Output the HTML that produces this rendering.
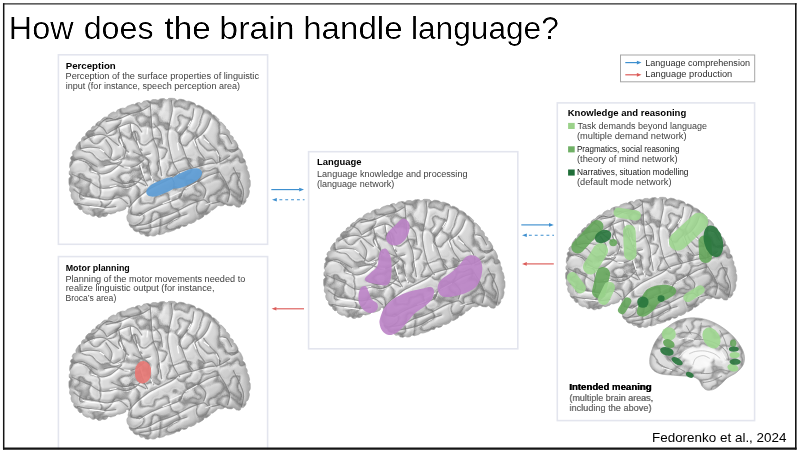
<!DOCTYPE html>
<html lang="en"><head><meta charset="utf-8"><title>How does the brain handle language?</title>
<style>
html,body{margin:0;padding:0;background:#fff;}
body{width:800px;height:452px;overflow:hidden;font-family:"Liberation Sans",sans-serif;}
svg{display:block;font-family:"Liberation Sans",sans-serif;}
</style></head><body>
<svg width="800" height="452" viewBox="0 0 800 452">

<defs><filter id="gray" filterUnits="userSpaceOnUse" x="0" y="0" width="800" height="452"><feOffset dx="0" dy="0"/></filter><filter id="thin" x="-5%" y="-20%" width="110%" height="140%"><feComponentTransfer><feFuncA type="linear" slope="1.45" intercept="-0.42"/></feComponentTransfer></filter></defs>
<defs>
<clipPath id="bclip"><path d="M69.4,171.3 L70.4,170.2 L70.6,169.0 L69.7,167.6 L69.6,166.3 L69.7,165.0 L69.8,163.7 L70.0,162.3 L71.2,161.2 L71.2,159.9 L70.5,158.6 L70.7,157.4 L71.4,156.4 L72.8,155.8 L72.9,154.8 L72.2,153.5 L72.4,152.6 L72.8,151.8 L73.3,151.0 L74.0,150.4 L75.3,150.2 L76.3,149.6 L75.9,148.2 L75.9,147.0 L76.4,146.0 L77.0,145.0 L77.7,144.0 L78.4,143.0 L79.2,142.0 L80.6,141.4 L81.5,140.5 L81.6,138.8 L82.2,137.6 L83.3,136.8 L84.9,136.4 L85.6,135.2 L85.8,133.6 L86.5,132.5 L87.4,131.6 L88.3,130.7 L89.7,130.3 L91.2,129.9 L91.4,128.2 L92.0,127.0 L93.2,126.2 L95.0,126.2 L95.7,125.1 L96.2,123.5 L97.2,122.5 L98.4,121.7 L99.9,121.3 L101.1,120.4 L102.0,119.0 L103.2,118.1 L104.5,117.2 L106.1,117.0 L107.9,116.9 L108.5,115.1 L109.6,114.0 L110.8,113.2 L112.1,112.5 L113.4,111.9 L115.2,112.4 L116.4,111.9 L117.1,110.2 L118.3,109.6 L119.5,109.1 L120.8,108.6 L122.1,108.2 L123.5,108.2 L125.0,108.4 L126.0,107.4 L127.0,106.4 L128.2,105.9 L129.5,105.4 L130.7,105.0 L132.0,104.5 L133.3,104.3 L134.7,104.6 L135.8,103.6 L136.9,102.9 L138.2,102.6 L139.5,102.5 L141.1,103.5 L142.2,102.8 L143.2,101.4 L144.4,101.0 L145.6,100.8 L146.9,100.6 L148.1,100.5 L149.5,101.0 L150.8,100.9 L151.9,99.9 L153.1,99.6 L154.4,99.5 L155.7,99.5 L157.0,100.0 L158.3,100.1 L159.5,99.2 L160.7,98.8 L162.0,98.7 L163.3,98.6 L164.6,98.7 L165.9,99.8 L167.2,99.8 L168.4,98.6 L169.7,98.3 L170.9,98.3 L172.2,98.3 L173.5,98.4 L174.7,98.6 L175.9,99.5 L177.1,100.5 L178.4,99.8 L179.8,99.2 L181.1,99.3 L182.3,99.5 L183.6,99.8 L184.8,100.3 L185.8,101.1 L187.0,101.4 L188.3,101.1 L189.5,101.3 L190.7,101.7 L191.8,102.1 L192.9,102.5 L194.0,102.9 L195.0,103.6 L195.6,105.1 L196.6,105.8 L198.1,105.2 L199.4,105.4 L200.4,105.9 L201.4,106.4 L202.4,107.0 L203.4,107.6 L204.1,108.5 L204.8,109.5 L206.0,109.7 L207.2,109.9 L208.2,110.4 L209.1,111.0 L210.1,111.7 L211.0,112.5 L211.6,113.7 L212.4,114.7 L213.9,114.9 L215.0,115.7 L216.0,116.6 L217.0,117.5 L218.0,118.5 L218.9,119.5 L218.7,121.6 L220.4,121.9 L221.8,122.5 L222.8,123.5 L223.7,124.5 L224.6,125.5 L225.5,126.6 L225.8,128.1 L226.4,129.3 L228.0,129.8 L228.9,130.9 L229.6,132.1 L229.7,133.7 L229.9,135.2 L231.6,135.8 L232.8,136.6 L233.4,137.9 L233.1,139.8 L234.9,140.3 L235.9,141.5 L236.6,142.7 L237.3,144.0 L238.0,145.3 L238.0,146.9 L238.5,148.3 L239.9,149.2 L240.7,150.3 L241.3,151.5 L241.9,152.7 L242.4,153.9 L242.8,155.0 L242.8,156.4 L242.6,157.7 L243.5,158.6 L244.5,159.4 L245.1,160.5 L245.5,161.5 L245.7,162.7 L245.5,164.0 L245.9,165.1 L246.8,166.0 L247.2,167.2 L247.3,168.5 L247.0,169.9 L247.8,171.0 L248.6,172.1 L248.9,173.4 L249.2,174.6 L249.5,175.8 L249.6,177.1 L249.0,178.4 L249.6,179.5 L250.2,180.6 L250.3,181.7 L250.3,182.8 L250.3,183.9 L250.3,185.0 L250.2,186.1 L249.8,187.1 L249.1,188.1 L248.8,189.1 L249.1,190.1 L249.4,191.1 L249.4,192.1 L249.2,193.0 L249.0,193.9 L248.8,194.7 L248.5,195.5 L248.3,196.3 L247.9,197.1 L247.4,197.7 L246.5,198.2 L245.9,198.7 L246.0,199.6 L246.1,200.5 L245.9,201.2 L245.6,201.8 L245.2,202.4 L244.8,202.9 L244.4,203.5 L244.0,204.0 L243.4,204.4 L242.7,204.6 L241.9,204.6 L241.2,204.7 L240.9,205.1 L240.7,205.8 L240.5,206.4 L240.2,206.9 L239.7,207.1 L239.2,207.2 L238.7,207.2 L238.2,207.2 L237.6,207.1 L237.1,207.0 L236.5,206.9 L236.0,206.6 L235.5,206.2 L235.0,205.6 L234.4,205.1 L233.8,204.8 L233.1,205.0 L232.4,205.5 L231.7,205.8 L231.0,205.9 L230.3,205.8 L229.6,205.8 L228.8,205.7 L228.1,205.6 L227.4,205.4 L226.7,205.0 L226.0,204.5 L225.2,204.2 L224.5,204.5 L223.9,205.1 L223.2,205.5 L222.5,205.7 L221.8,205.8 L221.0,205.9 L220.3,205.8 L219.5,205.6 L218.7,205.4 L217.9,205.5 L217.3,206.1 L216.8,206.7 L216.3,207.3 L215.8,207.7 L215.3,208.1 L214.8,208.5 L214.3,208.9 L213.8,209.3 L213.3,209.7 L212.7,210.1 L211.9,210.2 L210.8,210.1 L210.4,210.8 L210.3,211.9 L209.7,212.6 L209.0,213.1 L208.2,213.6 L207.4,214.2 L206.6,214.7 L205.5,214.8 L204.2,214.7 L203.8,216.0 L203.2,217.0 L202.3,217.6 L201.4,218.1 L200.4,218.7 L199.4,219.3 L198.2,219.6 L196.6,219.1 L196.0,220.6 L195.1,221.6 L194.0,222.2 L192.9,222.7 L191.7,223.3 L190.4,223.5 L188.9,223.3 L187.9,224.1 L187.1,225.3 L186.1,225.9 L185.0,226.3 L183.8,226.5 L182.3,226.0 L181.2,226.2 L180.4,227.6 L179.4,228.4 L178.3,228.6 L177.0,228.5 L175.9,228.9 L175.0,229.8 L173.9,230.3 L172.8,230.7 L171.7,231.1 L170.5,231.5 L169.4,231.8 L168.2,232.1 L166.9,232.0 L165.7,232.0 L164.8,233.0 L163.8,233.6 L162.7,233.9 L161.6,234.2 L160.6,234.5 L159.5,234.7 L158.4,234.3 L157.3,234.1 L156.4,235.0 L155.5,235.6 L154.6,235.9 L153.6,236.1 L152.6,236.1 L151.7,235.8 L150.7,235.3 L149.9,235.4 L149.0,236.0 L148.1,236.3 L147.3,236.2 L146.5,236.1 L145.7,235.9 L145.0,235.4 L144.4,234.6 L143.8,234.1 L142.9,234.1 L142.0,234.3 L141.1,234.2 L140.4,233.9 L139.7,233.3 L139.3,232.4 L138.7,231.6 L137.8,231.6 L136.8,231.8 L135.9,231.6 L135.1,231.2 L134.4,230.8 L133.7,230.2 L133.3,229.4 L133.0,228.6 L132.5,227.9 L131.7,227.6 L130.8,227.2 L130.2,226.6 L129.7,225.8 L129.3,225.0 L129.1,224.0 L129.3,222.9 L128.8,222.1 L127.9,221.4 L127.5,220.6 L127.2,219.7 L127.0,218.8 L126.9,218.0 L126.9,217.1 L126.9,216.2 L127.2,215.3 L128.0,214.5 L128.3,213.5 L128.1,212.4 L128.1,211.5 L128.4,210.6 L128.6,209.8 L128.7,209.2 L128.9,208.6 L128.9,208.1 L128.9,207.6 L128.6,207.1 L128.0,206.8 L127.4,206.6 L126.7,206.5 L126.2,206.7 L126.0,207.3 L125.8,208.2 L125.5,208.9 L125.0,209.3 L124.4,209.6 L123.7,209.9 L122.9,210.2 L122.1,210.4 L121.2,210.7 L120.2,211.1 L119.1,211.3 L117.9,211.0 L116.8,211.4 L115.9,212.4 L114.9,212.9 L113.8,213.2 L112.7,213.6 L111.7,213.9 L110.7,214.1 L109.4,213.6 L108.1,213.4 L107.5,214.7 L106.8,215.7 L105.9,216.2 L104.9,216.5 L103.8,216.6 L102.7,216.3 L101.8,216.5 L100.8,217.2 L99.8,217.5 L98.7,217.4 L97.6,216.9 L96.6,215.7 L95.5,215.5 L94.0,216.3 L92.7,216.3 L91.6,215.8 L90.6,214.9 L89.5,214.1 L88.2,214.3 L86.9,214.2 L85.9,213.7 L84.9,213.2 L83.9,212.6 L83.1,212.0 L82.7,210.6 L82.2,209.4 L80.7,209.7 L79.5,209.4 L78.7,208.6 L78.1,207.8 L77.9,206.6 L77.4,205.7 L76.3,205.3 L75.4,204.9 L74.8,204.2 L74.2,203.4 L73.8,202.6 L73.7,201.6 L73.9,200.5 L73.4,199.8 L72.4,199.2 L71.8,198.5 L71.5,197.6 L71.2,196.7 L71.0,195.8 L71.0,194.8 L71.4,193.7 L71.4,192.7 L70.6,191.9 L69.9,191.0 L69.6,190.0 L69.6,188.9 L69.8,187.9 L70.0,186.8 L69.7,185.8 L69.2,184.8 L69.0,183.8 L68.9,182.8 L68.9,181.8 L68.9,180.8 L68.9,179.8 L68.9,178.8 L69.4,177.8 L70.7,176.8 L70.5,175.7 L69.4,174.6 L69.2,173.5 L69.2,172.4Z"/></clipPath>
<filter id="blit" filterUnits="userSpaceOnUse" x="62" y="92" width="196" height="152" color-interpolation-filters="sRGB">
  <feColorMatrix in="SourceGraphic" type="luminanceToAlpha" result="h0"/>
  <feTurbulence type="fractalNoise" baseFrequency="0.05 0.056" numOctaves="2" seed="4" result="n"/>
  <feColorMatrix in="n" type="matrix" values="0 0 0 0 0  0 0 0 0 0  0 0 0 0 0  1 0 0 0 0" result="a"/>
  <feComponentTransfer in="a" result="ridge"><feFuncA type="table" tableValues="1.000 1.000 1.000 1.000 1.000 1.000 1.000 1.000 1.000 1.000 1.000 1.000 1.000 1.000 1.000 0.900 0.800 0.700 0.600 0.700 0.800 0.900 1.000 1.000 1.000 1.000 1.000 1.000 1.000 1.000 1.000 1.000 1.000 1.000 1.000 1.000 1.000"/></feComponentTransfer>
  <feComponentTransfer in="a" result="rdark"><feFuncA type="table" tableValues="0.000 0.000 0.000 0.000 0.000 0.000 0.000 0.000 0.000 0.000 0.000 0.000 0.000 0.000 0.000 0.000 0.110 0.220 0.330 0.220 0.110 0.000 0.000 0.000 0.000 0.000 0.000 0.000 0.000 0.000 0.000 0.000 0.000 0.000 0.000 0.000 0.000"/></feComponentTransfer>
  <feGaussianBlur in="rdark" stdDeviation="0.5" result="rdarkb"/>
  <feColorMatrix in="n" type="matrix" values="0 0 0 0 1  0 0 0 0 1  0 0 0 0 1  1 0 0 0 0" result="aw"/>
  <feComponentTransfer in="aw" result="rwh"><feFuncA type="table" tableValues="0.000 0.000 0.000 0.000 0.000 0.000 0.000 0.000 0.000 0.000 0.000 0.000 0.000 0.000 0.000 0.000 0.000 0.000 0.000 0.250 0.500 0.250 0.000 0.000 0.000 0.000 0.000 0.000 0.000 0.000 0.000 0.000 0.000 0.000 0.000 0.000 0.000"/></feComponentTransfer>
  <feGaussianBlur in="rwh" stdDeviation="0.5" result="rwhb"/>
  <feComposite in="h0" in2="ridge" operator="in" result="h1"/>
  <feGaussianBlur in="h1" stdDeviation="1.05" result="hb"/>
  <feDiffuseLighting in="hb" surfaceScale="1.05" diffuseConstant="1" lighting-color="#ebebeb" result="lit"><feDistantLight azimuth="225" elevation="66"/></feDiffuseLighting>
  <feSpecularLighting in="hb" surfaceScale="1.05" specularConstant="0.1" specularExponent="16" lighting-color="#fff" result="spec"><feDistantLight azimuth="225" elevation="32"/></feSpecularLighting>
  <feComposite in="lit" in2="spec" operator="arithmetic" k1="0" k2="1" k3="1" k4="0" result="surf"/>
  <feComposite in="rdarkb" in2="surf" operator="over" result="s2"/>
  <feComposite in="rwhb" in2="s2" operator="over"/>
</filter>
<filter id="bblur" x="-10%" y="-10%" width="120%" height="120%"><feGaussianBlur stdDeviation="2.2"/></filter>
<filter id="gblur" x="-10%" y="-10%" width="120%" height="120%"><feGaussianBlur stdDeviation="0.3"/></filter>
<filter id="sblur" x="-10%" y="-10%" width="120%" height="120%"><feGaussianBlur stdDeviation="0.42"/></filter>
<linearGradient id="bshade" gradientUnits="userSpaceOnUse" x1="100" y1="110" x2="225" y2="235"><stop offset="0" stop-color="#fff" stop-opacity="0.0"/><stop offset="0.45" stop-color="#888" stop-opacity="0"/><stop offset="1" stop-color="#555" stop-opacity="0.2"/></linearGradient>
<g id="brain">
  <g clip-path="url(#bclip)">
    <g filter="url(#blit)">
      <rect x="60" y="90" width="200" height="156" fill="#fff"/>
      <path d="M106.3,121.4 C108.4,121.0 114.7,120.2 118.7,118.9 C122.7,117.7 126.4,115.3 130.3,113.9 C134.2,112.5 138.6,112.0 141.9,110.6 C145.2,109.2 148.8,106.4 150.2,105.6 M107.1,133.8 C108.2,133.1 111.5,130.9 113.7,129.7 C115.9,128.4 117.6,127.4 120.4,126.3 C123.2,125.2 127.5,123.1 130.3,123.0 C133.1,122.9 135.1,124.0 137.0,125.5 C138.9,127.0 141.1,131.0 141.9,132.1 M118.7,127.2 C119.1,128.8 120.1,133.5 121.2,137.1 C122.3,140.7 124.2,146.2 125.4,148.7 C126.7,151.2 128.1,151.4 128.7,152.0 M130.3,123.9 C130.6,125.6 130.9,130.5 132.0,133.8 C133.1,137.1 135.3,141.0 137.0,143.8 C138.7,146.6 141.1,149.3 141.9,150.4 M88.9,137.1 C90.3,136.7 94.4,134.9 97.2,134.6 C100.0,134.3 103.0,134.5 105.5,135.5 C108.0,136.5 109.9,138.8 112.1,140.4 C114.3,142.1 117.6,144.6 118.7,145.4 M80.6,148.7 C82.2,148.4 87.2,147.1 90.5,147.1 C93.8,147.1 97.7,147.3 100.5,148.7 C103.3,150.1 104.9,153.5 107.1,155.4 C109.3,157.3 111.5,160.0 113.7,160.3 C115.9,160.6 119.3,157.6 120.4,157.0 M74.0,160.3 C75.4,160.0 79.7,158.4 82.2,158.7 C84.7,159.0 86.4,160.6 88.9,162.0 C91.4,163.4 95.8,166.2 97.2,167.0 M133.7,152.0 C135.1,152.6 139.2,155.1 141.9,155.4 C144.7,155.7 148.8,154.0 150.2,153.7 M96.0,124.5 C97.2,125.1 101.2,126.5 103.0,128.0 C104.8,129.6 106.4,132.8 107.1,133.8 M84.0,140.0 C84.8,139.5 88.1,137.6 88.9,137.1 M134.8,131.9 C135.3,133.9 136.6,140.2 137.8,143.9 C139.0,147.6 140.1,151.2 141.8,153.8 C143.5,156.5 146.5,156.8 147.8,159.8 C149.1,162.8 148.8,168.0 149.8,171.7 C150.8,175.3 153.0,180.0 153.7,181.7 M150.2,104.0 C150.3,105.9 150.7,110.3 151.1,115.6 C151.5,120.9 151.6,130.2 152.7,135.9 C153.8,141.6 156.5,145.2 157.7,149.9 C158.9,154.6 159.0,159.5 159.7,163.8 C160.4,168.1 161.4,173.7 161.7,175.7 M171.4,100.6 C171.5,102.3 172.5,107.0 172.2,110.6 C171.9,114.2 170.6,118.0 169.8,122.2 C169.1,126.4 167.7,131.3 167.7,135.9 C167.7,140.5 168.7,145.2 169.7,149.9 C170.7,154.6 171.9,159.8 173.6,163.8 C175.2,167.8 178.6,172.0 179.6,173.7 M193.8,108.9 C193.5,110.6 193.2,115.9 192.1,118.9 C191.0,122.0 188.8,124.7 187.2,127.2 C185.5,129.7 183.5,132.0 182.2,133.8 C180.9,135.6 179.4,135.2 179.6,137.9 C179.8,140.6 182.3,146.2 183.6,149.9 C184.9,153.6 185.9,156.8 187.6,159.8 C189.2,162.8 192.5,166.5 193.5,167.8 M210.4,118.9 C209.8,120.3 208.5,124.7 207.1,127.2 C205.7,129.7 204.0,131.9 202.1,133.8 C200.2,135.7 196.6,137.5 195.5,138.8 C194.4,140.2 194.8,139.7 195.5,141.9 C196.2,144.1 197.8,148.8 199.5,151.8 C201.2,154.8 204.5,158.5 205.5,159.8 M154.0,123.9 C155.1,125.3 159.2,128.8 160.6,132.1 C162.0,135.4 162.0,141.9 162.3,143.8 M220.3,133.8 C221.4,134.1 225.1,133.8 227.0,135.5 C228.9,137.2 231.1,142.4 231.9,143.8 M203.8,135.5 C204.9,136.9 208.2,141.3 210.4,143.8 C212.6,146.3 215.3,147.9 217.0,150.4 C218.7,152.9 219.8,157.3 220.3,158.7 M225.3,148.7 C226.4,149.2 229.7,152.0 231.9,152.0 C234.1,152.0 237.5,149.2 238.6,148.7 M198.8,157.0 C199.6,157.6 201.6,160.0 203.8,160.3 C206.0,160.6 209.8,158.1 212.0,158.7 C214.2,159.3 216.2,162.9 217.0,163.7 M207.7,163.9 C209.7,163.6 215.9,163.2 219.6,161.9 C223.2,160.6 227.9,157.0 229.6,156.0 M219.6,171.9 C220.6,173.6 223.9,178.5 225.6,181.8 C227.3,185.1 229.3,188.5 229.6,191.8 C229.9,195.1 227.9,200.0 227.6,201.7 M233.5,167.9 C234.5,169.9 237.8,175.9 239.5,179.9 C241.2,183.9 243.2,187.8 243.5,191.8 C243.8,195.8 241.8,201.7 241.5,203.7 M199.7,181.8 C200.7,183.1 205.0,187.1 205.7,189.8 C206.4,192.5 204.0,196.5 203.7,197.8 M104.0,165.8 C106.0,165.5 112.2,163.5 115.9,163.8 C119.6,164.1 122.6,167.5 125.9,167.8 C129.2,168.1 132.8,167.1 135.8,165.8 C138.8,164.5 142.5,160.8 143.8,159.8 M111.9,179.7 C113.9,180.4 119.9,183.4 123.9,183.7 C127.9,184.0 132.2,181.4 135.8,181.7 C139.5,182.0 144.1,185.0 145.8,185.7 M119.9,137.9 C120.9,139.6 125.2,144.6 125.9,147.9 C126.6,151.2 124.2,156.2 123.9,157.8 M106.0,139.9 C107.0,141.6 111.2,146.6 111.9,149.9 C112.6,153.2 110.2,158.2 109.9,159.8 M85.9,161.9 C87.2,163.2 91.2,167.9 93.8,169.9 C96.4,171.9 99.1,173.6 101.8,173.9 C104.5,174.2 107.1,173.2 109.8,171.9 C112.5,170.6 115.7,167.6 117.7,165.9 C119.7,164.2 121.0,162.6 121.7,161.9 M79.9,177.9 C81.6,178.6 86.6,180.2 89.9,181.8 C93.2,183.5 96.5,186.8 99.8,187.8 C103.1,188.8 106.8,188.1 109.8,187.8 C112.8,187.5 115.0,185.8 117.7,185.8 C120.4,185.8 122.7,188.1 125.7,187.8 C128.7,187.5 132.6,185.8 135.6,183.8 C138.6,181.8 142.3,177.2 143.6,175.9 M73.9,189.8 C75.6,190.8 80.2,194.5 83.9,195.8 C87.6,197.1 91.8,197.1 95.8,197.8 C99.8,198.5 103.8,199.8 107.8,199.8 C111.8,199.8 116.4,197.2 119.7,197.8 C123.0,198.5 126.4,202.7 127.7,203.7 M77.9,203.7 C79.9,204.0 85.6,205.0 89.9,205.7 C94.2,206.4 99.5,207.5 103.8,207.7 C108.1,207.9 113.7,206.9 115.7,206.7 M139.6,165.9 C140.3,167.9 142.3,174.6 143.6,177.9 C144.9,181.2 146.9,184.5 147.6,185.8 M72.0,174.0 C73.3,174.7 78.6,177.2 79.9,177.9 M128.7,207.7 C129.8,206.4 132.8,202.5 135.6,199.8 C138.4,197.2 142.9,193.8 145.6,191.8 C148.2,189.8 147.2,190.1 151.5,187.8 C155.8,185.5 166.8,180.6 171.4,177.9 C176.1,175.2 175.7,173.6 179.4,171.9 C183.1,170.2 188.8,169.1 193.5,167.8 C198.2,166.5 205.3,164.6 207.7,163.9 M139.6,215.7 C141.3,214.7 145.6,211.7 149.6,209.7 C153.6,207.7 158.5,205.7 163.5,203.7 C168.5,201.7 176.0,200.1 179.4,197.8 C182.8,195.5 180.8,192.5 183.8,189.8 C186.9,187.1 193.7,184.1 197.7,181.8 C201.7,179.5 204.0,177.6 207.7,175.9 C211.3,174.2 217.6,172.6 219.6,171.9 M135.6,225.6 C137.6,225.3 143.6,224.9 147.6,223.6 C151.6,222.3 155.5,219.3 159.5,217.7 C163.5,216.0 168.0,215.0 171.4,213.7 C174.8,212.4 176.4,211.4 179.8,209.7 C183.2,208.0 187.7,205.3 191.7,203.7 C195.7,202.0 200.7,199.8 203.7,199.8 C206.7,199.8 207.0,203.4 209.7,203.7 C212.3,204.0 217.9,202.0 219.6,201.7 M140.0,229.6 C142.0,229.3 147.6,228.6 151.9,227.6 C156.2,226.6 161.9,225.2 165.9,223.6 C169.9,221.9 172.3,219.3 175.8,217.7 C179.3,216.1 185.1,214.6 187.0,214.0 M131.0,214.0 C132.4,214.3 138.2,215.4 139.6,215.7" fill="none" stroke="#505050" stroke-width="2.0" stroke-linecap="round" stroke-linejoin="round"/>
    </g>
    <path d="M106.3,121.4 C108.4,121.0 114.7,120.2 118.7,118.9 C122.7,117.7 126.4,115.3 130.3,113.9 C134.2,112.5 138.6,112.0 141.9,110.6 C145.2,109.2 148.8,106.4 150.2,105.6 M107.1,133.8 C108.2,133.1 111.5,130.9 113.7,129.7 C115.9,128.4 117.6,127.4 120.4,126.3 C123.2,125.2 127.5,123.1 130.3,123.0 C133.1,122.9 135.1,124.0 137.0,125.5 C138.9,127.0 141.1,131.0 141.9,132.1 M118.7,127.2 C119.1,128.8 120.1,133.5 121.2,137.1 C122.3,140.7 124.2,146.2 125.4,148.7 C126.7,151.2 128.1,151.4 128.7,152.0 M130.3,123.9 C130.6,125.6 130.9,130.5 132.0,133.8 C133.1,137.1 135.3,141.0 137.0,143.8 C138.7,146.6 141.1,149.3 141.9,150.4 M88.9,137.1 C90.3,136.7 94.4,134.9 97.2,134.6 C100.0,134.3 103.0,134.5 105.5,135.5 C108.0,136.5 109.9,138.8 112.1,140.4 C114.3,142.1 117.6,144.6 118.7,145.4 M80.6,148.7 C82.2,148.4 87.2,147.1 90.5,147.1 C93.8,147.1 97.7,147.3 100.5,148.7 C103.3,150.1 104.9,153.5 107.1,155.4 C109.3,157.3 111.5,160.0 113.7,160.3 C115.9,160.6 119.3,157.6 120.4,157.0 M74.0,160.3 C75.4,160.0 79.7,158.4 82.2,158.7 C84.7,159.0 86.4,160.6 88.9,162.0 C91.4,163.4 95.8,166.2 97.2,167.0 M133.7,152.0 C135.1,152.6 139.2,155.1 141.9,155.4 C144.7,155.7 148.8,154.0 150.2,153.7 M96.0,124.5 C97.2,125.1 101.2,126.5 103.0,128.0 C104.8,129.6 106.4,132.8 107.1,133.8 M84.0,140.0 C84.8,139.5 88.1,137.6 88.9,137.1 M134.8,131.9 C135.3,133.9 136.6,140.2 137.8,143.9 C139.0,147.6 140.1,151.2 141.8,153.8 C143.5,156.5 146.5,156.8 147.8,159.8 C149.1,162.8 148.8,168.0 149.8,171.7 C150.8,175.3 153.0,180.0 153.7,181.7 M150.2,104.0 C150.3,105.9 150.7,110.3 151.1,115.6 C151.5,120.9 151.6,130.2 152.7,135.9 C153.8,141.6 156.5,145.2 157.7,149.9 C158.9,154.6 159.0,159.5 159.7,163.8 C160.4,168.1 161.4,173.7 161.7,175.7 M171.4,100.6 C171.5,102.3 172.5,107.0 172.2,110.6 C171.9,114.2 170.6,118.0 169.8,122.2 C169.1,126.4 167.7,131.3 167.7,135.9 C167.7,140.5 168.7,145.2 169.7,149.9 C170.7,154.6 171.9,159.8 173.6,163.8 C175.2,167.8 178.6,172.0 179.6,173.7 M193.8,108.9 C193.5,110.6 193.2,115.9 192.1,118.9 C191.0,122.0 188.8,124.7 187.2,127.2 C185.5,129.7 183.5,132.0 182.2,133.8 C180.9,135.6 179.4,135.2 179.6,137.9 C179.8,140.6 182.3,146.2 183.6,149.9 C184.9,153.6 185.9,156.8 187.6,159.8 C189.2,162.8 192.5,166.5 193.5,167.8 M210.4,118.9 C209.8,120.3 208.5,124.7 207.1,127.2 C205.7,129.7 204.0,131.9 202.1,133.8 C200.2,135.7 196.6,137.5 195.5,138.8 C194.4,140.2 194.8,139.7 195.5,141.9 C196.2,144.1 197.8,148.8 199.5,151.8 C201.2,154.8 204.5,158.5 205.5,159.8 M154.0,123.9 C155.1,125.3 159.2,128.8 160.6,132.1 C162.0,135.4 162.0,141.9 162.3,143.8 M220.3,133.8 C221.4,134.1 225.1,133.8 227.0,135.5 C228.9,137.2 231.1,142.4 231.9,143.8 M203.8,135.5 C204.9,136.9 208.2,141.3 210.4,143.8 C212.6,146.3 215.3,147.9 217.0,150.4 C218.7,152.9 219.8,157.3 220.3,158.7 M225.3,148.7 C226.4,149.2 229.7,152.0 231.9,152.0 C234.1,152.0 237.5,149.2 238.6,148.7 M198.8,157.0 C199.6,157.6 201.6,160.0 203.8,160.3 C206.0,160.6 209.8,158.1 212.0,158.7 C214.2,159.3 216.2,162.9 217.0,163.7 M207.7,163.9 C209.7,163.6 215.9,163.2 219.6,161.9 C223.2,160.6 227.9,157.0 229.6,156.0 M219.6,171.9 C220.6,173.6 223.9,178.5 225.6,181.8 C227.3,185.1 229.3,188.5 229.6,191.8 C229.9,195.1 227.9,200.0 227.6,201.7 M233.5,167.9 C234.5,169.9 237.8,175.9 239.5,179.9 C241.2,183.9 243.2,187.8 243.5,191.8 C243.8,195.8 241.8,201.7 241.5,203.7 M199.7,181.8 C200.7,183.1 205.0,187.1 205.7,189.8 C206.4,192.5 204.0,196.5 203.7,197.8 M104.0,165.8 C106.0,165.5 112.2,163.5 115.9,163.8 C119.6,164.1 122.6,167.5 125.9,167.8 C129.2,168.1 132.8,167.1 135.8,165.8 C138.8,164.5 142.5,160.8 143.8,159.8 M111.9,179.7 C113.9,180.4 119.9,183.4 123.9,183.7 C127.9,184.0 132.2,181.4 135.8,181.7 C139.5,182.0 144.1,185.0 145.8,185.7 M119.9,137.9 C120.9,139.6 125.2,144.6 125.9,147.9 C126.6,151.2 124.2,156.2 123.9,157.8 M106.0,139.9 C107.0,141.6 111.2,146.6 111.9,149.9 C112.6,153.2 110.2,158.2 109.9,159.8 M85.9,161.9 C87.2,163.2 91.2,167.9 93.8,169.9 C96.4,171.9 99.1,173.6 101.8,173.9 C104.5,174.2 107.1,173.2 109.8,171.9 C112.5,170.6 115.7,167.6 117.7,165.9 C119.7,164.2 121.0,162.6 121.7,161.9 M79.9,177.9 C81.6,178.6 86.6,180.2 89.9,181.8 C93.2,183.5 96.5,186.8 99.8,187.8 C103.1,188.8 106.8,188.1 109.8,187.8 C112.8,187.5 115.0,185.8 117.7,185.8 C120.4,185.8 122.7,188.1 125.7,187.8 C128.7,187.5 132.6,185.8 135.6,183.8 C138.6,181.8 142.3,177.2 143.6,175.9 M73.9,189.8 C75.6,190.8 80.2,194.5 83.9,195.8 C87.6,197.1 91.8,197.1 95.8,197.8 C99.8,198.5 103.8,199.8 107.8,199.8 C111.8,199.8 116.4,197.2 119.7,197.8 C123.0,198.5 126.4,202.7 127.7,203.7 M77.9,203.7 C79.9,204.0 85.6,205.0 89.9,205.7 C94.2,206.4 99.5,207.5 103.8,207.7 C108.1,207.9 113.7,206.9 115.7,206.7 M139.6,165.9 C140.3,167.9 142.3,174.6 143.6,177.9 C144.9,181.2 146.9,184.5 147.6,185.8 M72.0,174.0 C73.3,174.7 78.6,177.2 79.9,177.9 M128.7,207.7 C129.8,206.4 132.8,202.5 135.6,199.8 C138.4,197.2 142.9,193.8 145.6,191.8 C148.2,189.8 147.2,190.1 151.5,187.8 C155.8,185.5 166.8,180.6 171.4,177.9 C176.1,175.2 175.7,173.6 179.4,171.9 C183.1,170.2 188.8,169.1 193.5,167.8 C198.2,166.5 205.3,164.6 207.7,163.9 M139.6,215.7 C141.3,214.7 145.6,211.7 149.6,209.7 C153.6,207.7 158.5,205.7 163.5,203.7 C168.5,201.7 176.0,200.1 179.4,197.8 C182.8,195.5 180.8,192.5 183.8,189.8 C186.9,187.1 193.7,184.1 197.7,181.8 C201.7,179.5 204.0,177.6 207.7,175.9 C211.3,174.2 217.6,172.6 219.6,171.9 M135.6,225.6 C137.6,225.3 143.6,224.9 147.6,223.6 C151.6,222.3 155.5,219.3 159.5,217.7 C163.5,216.0 168.0,215.0 171.4,213.7 C174.8,212.4 176.4,211.4 179.8,209.7 C183.2,208.0 187.7,205.3 191.7,203.7 C195.7,202.0 200.7,199.8 203.7,199.8 C206.7,199.8 207.0,203.4 209.7,203.7 C212.3,204.0 217.9,202.0 219.6,201.7 M140.0,229.6 C142.0,229.3 147.6,228.6 151.9,227.6 C156.2,226.6 161.9,225.2 165.9,223.6 C169.9,221.9 172.3,219.3 175.8,217.7 C179.3,216.1 185.1,214.6 187.0,214.0 M131.0,214.0 C132.4,214.3 138.2,215.4 139.6,215.7" transform="translate(0.9,0.7)" fill="none" stroke="#fff" stroke-width="1.0" stroke-dasharray="4 7 7 5 3 9" stroke-linecap="round" opacity="0.7" filter="url(#gblur)"/>
    <path d="M106.3,121.4 C108.4,121.0 114.7,120.2 118.7,118.9 C122.7,117.7 126.4,115.3 130.3,113.9 C134.2,112.5 138.6,112.0 141.9,110.6 C145.2,109.2 148.8,106.4 150.2,105.6 M107.1,133.8 C108.2,133.1 111.5,130.9 113.7,129.7 C115.9,128.4 117.6,127.4 120.4,126.3 C123.2,125.2 127.5,123.1 130.3,123.0 C133.1,122.9 135.1,124.0 137.0,125.5 C138.9,127.0 141.1,131.0 141.9,132.1 M118.7,127.2 C119.1,128.8 120.1,133.5 121.2,137.1 C122.3,140.7 124.2,146.2 125.4,148.7 C126.7,151.2 128.1,151.4 128.7,152.0 M130.3,123.9 C130.6,125.6 130.9,130.5 132.0,133.8 C133.1,137.1 135.3,141.0 137.0,143.8 C138.7,146.6 141.1,149.3 141.9,150.4 M88.9,137.1 C90.3,136.7 94.4,134.9 97.2,134.6 C100.0,134.3 103.0,134.5 105.5,135.5 C108.0,136.5 109.9,138.8 112.1,140.4 C114.3,142.1 117.6,144.6 118.7,145.4 M80.6,148.7 C82.2,148.4 87.2,147.1 90.5,147.1 C93.8,147.1 97.7,147.3 100.5,148.7 C103.3,150.1 104.9,153.5 107.1,155.4 C109.3,157.3 111.5,160.0 113.7,160.3 C115.9,160.6 119.3,157.6 120.4,157.0 M74.0,160.3 C75.4,160.0 79.7,158.4 82.2,158.7 C84.7,159.0 86.4,160.6 88.9,162.0 C91.4,163.4 95.8,166.2 97.2,167.0 M133.7,152.0 C135.1,152.6 139.2,155.1 141.9,155.4 C144.7,155.7 148.8,154.0 150.2,153.7 M96.0,124.5 C97.2,125.1 101.2,126.5 103.0,128.0 C104.8,129.6 106.4,132.8 107.1,133.8 M84.0,140.0 C84.8,139.5 88.1,137.6 88.9,137.1 M134.8,131.9 C135.3,133.9 136.6,140.2 137.8,143.9 C139.0,147.6 140.1,151.2 141.8,153.8 C143.5,156.5 146.5,156.8 147.8,159.8 C149.1,162.8 148.8,168.0 149.8,171.7 C150.8,175.3 153.0,180.0 153.7,181.7 M150.2,104.0 C150.3,105.9 150.7,110.3 151.1,115.6 C151.5,120.9 151.6,130.2 152.7,135.9 C153.8,141.6 156.5,145.2 157.7,149.9 C158.9,154.6 159.0,159.5 159.7,163.8 C160.4,168.1 161.4,173.7 161.7,175.7 M171.4,100.6 C171.5,102.3 172.5,107.0 172.2,110.6 C171.9,114.2 170.6,118.0 169.8,122.2 C169.1,126.4 167.7,131.3 167.7,135.9 C167.7,140.5 168.7,145.2 169.7,149.9 C170.7,154.6 171.9,159.8 173.6,163.8 C175.2,167.8 178.6,172.0 179.6,173.7 M193.8,108.9 C193.5,110.6 193.2,115.9 192.1,118.9 C191.0,122.0 188.8,124.7 187.2,127.2 C185.5,129.7 183.5,132.0 182.2,133.8 C180.9,135.6 179.4,135.2 179.6,137.9 C179.8,140.6 182.3,146.2 183.6,149.9 C184.9,153.6 185.9,156.8 187.6,159.8 C189.2,162.8 192.5,166.5 193.5,167.8 M210.4,118.9 C209.8,120.3 208.5,124.7 207.1,127.2 C205.7,129.7 204.0,131.9 202.1,133.8 C200.2,135.7 196.6,137.5 195.5,138.8 C194.4,140.2 194.8,139.7 195.5,141.9 C196.2,144.1 197.8,148.8 199.5,151.8 C201.2,154.8 204.5,158.5 205.5,159.8 M154.0,123.9 C155.1,125.3 159.2,128.8 160.6,132.1 C162.0,135.4 162.0,141.9 162.3,143.8 M220.3,133.8 C221.4,134.1 225.1,133.8 227.0,135.5 C228.9,137.2 231.1,142.4 231.9,143.8 M203.8,135.5 C204.9,136.9 208.2,141.3 210.4,143.8 C212.6,146.3 215.3,147.9 217.0,150.4 C218.7,152.9 219.8,157.3 220.3,158.7 M225.3,148.7 C226.4,149.2 229.7,152.0 231.9,152.0 C234.1,152.0 237.5,149.2 238.6,148.7 M198.8,157.0 C199.6,157.6 201.6,160.0 203.8,160.3 C206.0,160.6 209.8,158.1 212.0,158.7 C214.2,159.3 216.2,162.9 217.0,163.7 M207.7,163.9 C209.7,163.6 215.9,163.2 219.6,161.9 C223.2,160.6 227.9,157.0 229.6,156.0 M219.6,171.9 C220.6,173.6 223.9,178.5 225.6,181.8 C227.3,185.1 229.3,188.5 229.6,191.8 C229.9,195.1 227.9,200.0 227.6,201.7 M233.5,167.9 C234.5,169.9 237.8,175.9 239.5,179.9 C241.2,183.9 243.2,187.8 243.5,191.8 C243.8,195.8 241.8,201.7 241.5,203.7 M199.7,181.8 C200.7,183.1 205.0,187.1 205.7,189.8 C206.4,192.5 204.0,196.5 203.7,197.8 M104.0,165.8 C106.0,165.5 112.2,163.5 115.9,163.8 C119.6,164.1 122.6,167.5 125.9,167.8 C129.2,168.1 132.8,167.1 135.8,165.8 C138.8,164.5 142.5,160.8 143.8,159.8 M111.9,179.7 C113.9,180.4 119.9,183.4 123.9,183.7 C127.9,184.0 132.2,181.4 135.8,181.7 C139.5,182.0 144.1,185.0 145.8,185.7 M119.9,137.9 C120.9,139.6 125.2,144.6 125.9,147.9 C126.6,151.2 124.2,156.2 123.9,157.8 M106.0,139.9 C107.0,141.6 111.2,146.6 111.9,149.9 C112.6,153.2 110.2,158.2 109.9,159.8 M85.9,161.9 C87.2,163.2 91.2,167.9 93.8,169.9 C96.4,171.9 99.1,173.6 101.8,173.9 C104.5,174.2 107.1,173.2 109.8,171.9 C112.5,170.6 115.7,167.6 117.7,165.9 C119.7,164.2 121.0,162.6 121.7,161.9 M79.9,177.9 C81.6,178.6 86.6,180.2 89.9,181.8 C93.2,183.5 96.5,186.8 99.8,187.8 C103.1,188.8 106.8,188.1 109.8,187.8 C112.8,187.5 115.0,185.8 117.7,185.8 C120.4,185.8 122.7,188.1 125.7,187.8 C128.7,187.5 132.6,185.8 135.6,183.8 C138.6,181.8 142.3,177.2 143.6,175.9 M73.9,189.8 C75.6,190.8 80.2,194.5 83.9,195.8 C87.6,197.1 91.8,197.1 95.8,197.8 C99.8,198.5 103.8,199.8 107.8,199.8 C111.8,199.8 116.4,197.2 119.7,197.8 C123.0,198.5 126.4,202.7 127.7,203.7 M77.9,203.7 C79.9,204.0 85.6,205.0 89.9,205.7 C94.2,206.4 99.5,207.5 103.8,207.7 C108.1,207.9 113.7,206.9 115.7,206.7 M139.6,165.9 C140.3,167.9 142.3,174.6 143.6,177.9 C144.9,181.2 146.9,184.5 147.6,185.8 M72.0,174.0 C73.3,174.7 78.6,177.2 79.9,177.9 M128.7,207.7 C129.8,206.4 132.8,202.5 135.6,199.8 C138.4,197.2 142.9,193.8 145.6,191.8 C148.2,189.8 147.2,190.1 151.5,187.8 C155.8,185.5 166.8,180.6 171.4,177.9 C176.1,175.2 175.7,173.6 179.4,171.9 C183.1,170.2 188.8,169.1 193.5,167.8 C198.2,166.5 205.3,164.6 207.7,163.9 M139.6,215.7 C141.3,214.7 145.6,211.7 149.6,209.7 C153.6,207.7 158.5,205.7 163.5,203.7 C168.5,201.7 176.0,200.1 179.4,197.8 C182.8,195.5 180.8,192.5 183.8,189.8 C186.9,187.1 193.7,184.1 197.7,181.8 C201.7,179.5 204.0,177.6 207.7,175.9 C211.3,174.2 217.6,172.6 219.6,171.9 M135.6,225.6 C137.6,225.3 143.6,224.9 147.6,223.6 C151.6,222.3 155.5,219.3 159.5,217.7 C163.5,216.0 168.0,215.0 171.4,213.7 C174.8,212.4 176.4,211.4 179.8,209.7 C183.2,208.0 187.7,205.3 191.7,203.7 C195.7,202.0 200.7,199.8 203.7,199.8 C206.7,199.8 207.0,203.4 209.7,203.7 C212.3,204.0 217.9,202.0 219.6,201.7 M140.0,229.6 C142.0,229.3 147.6,228.6 151.9,227.6 C156.2,226.6 161.9,225.2 165.9,223.6 C169.9,221.9 172.3,219.3 175.8,217.7 C179.3,216.1 185.1,214.6 187.0,214.0 M131.0,214.0 C132.4,214.3 138.2,215.4 139.6,215.7" fill="none" stroke="#747474" stroke-width="1.25" stroke-linecap="round" stroke-linejoin="round" opacity="0.7" filter="url(#sblur)"/>
    <path d="M131.5,124.5 C131.7,125.6 132.3,129.9 132.5,131.0 M137.5,141.0 C137.9,142.2 139.6,146.8 140.0,148.0 M120.0,139.0 C120.4,140.2 122.1,144.8 122.5,146.0 M147.5,128.0 C147.4,129.0 147.1,133.0 147.0,134.0 M178.0,131.0 C178.5,130.3 180.5,127.7 181.0,127.0 M188.0,126.0 C188.5,125.2 190.5,121.8 191.0,121.0 M177.5,143.0 C177.7,144.2 178.3,148.8 178.5,150.0 M193.5,140.0 C193.9,141.0 195.6,145.0 196.0,146.0 M204.0,139.0 C204.8,139.7 208.2,142.3 209.0,143.0 M141.0,166.0 C141.4,167.5 143.1,173.5 143.5,175.0 M116.0,162.0 C116.7,161.8 119.3,160.8 120.0,160.5 M100.0,149.0 C100.7,149.5 103.3,151.5 104.0,152.0 M83.0,197.5 C84.7,197.8 89.7,199.0 93.0,199.5 C96.3,200.0 101.3,200.3 103.0,200.5 M90.0,206.5 C92.3,206.8 101.7,207.9 104.0,208.2 M205.7,204.7 C206.7,204.4 210.6,203.0 211.6,202.7 M170.0,197.0 C171.8,196.2 179.2,192.8 181.0,192.0 M186.0,188.5 C187.8,187.5 195.2,183.5 197.0,182.5 M124.0,167.0 C125.0,167.1 129.0,167.4 130.0,167.5 M160.0,158.0 C160.2,159.3 160.8,164.7 161.0,166.0 M151.0,176.0 C151.3,176.8 152.7,180.2 153.0,181.0 M222.0,135.0 C222.7,135.2 225.3,135.8 226.0,136.0 M163.0,203.5 C164.3,203.0 169.7,200.8 171.0,200.3 M91.0,171.0 C92.0,171.3 96.0,172.7 97.0,173.0 M110.0,186.5 C111.0,186.3 115.0,185.7 116.0,185.5 M216.0,151.0 C216.5,151.8 218.5,155.2 219.0,156.0" fill="none" stroke="#fff" stroke-width="1.1" stroke-linecap="round" opacity="1.0" filter="url(#gblur)"/>
    <path d="M69.4,171.3 L70.4,170.2 L70.6,169.0 L69.7,167.6 L69.6,166.3 L69.7,165.0 L69.8,163.7 L70.0,162.3 L71.2,161.2 L71.2,159.9 L70.5,158.6 L70.7,157.4 L71.4,156.4 L72.8,155.8 L72.9,154.8 L72.2,153.5 L72.4,152.6 L72.8,151.8 L73.3,151.0 L74.0,150.4 L75.3,150.2 L76.3,149.6 L75.9,148.2 L75.9,147.0 L76.4,146.0 L77.0,145.0 L77.7,144.0 L78.4,143.0 L79.2,142.0 L80.6,141.4 L81.5,140.5 L81.6,138.8 L82.2,137.6 L83.3,136.8 L84.9,136.4 L85.6,135.2 L85.8,133.6 L86.5,132.5 L87.4,131.6 L88.3,130.7 L89.7,130.3 L91.2,129.9 L91.4,128.2 L92.0,127.0 L93.2,126.2 L95.0,126.2 L95.7,125.1 L96.2,123.5 L97.2,122.5 L98.4,121.7 L99.9,121.3 L101.1,120.4 L102.0,119.0 L103.2,118.1 L104.5,117.2 L106.1,117.0 L107.9,116.9 L108.5,115.1 L109.6,114.0 L110.8,113.2 L112.1,112.5 L113.4,111.9 L115.2,112.4 L116.4,111.9 L117.1,110.2 L118.3,109.6 L119.5,109.1 L120.8,108.6 L122.1,108.2 L123.5,108.2 L125.0,108.4 L126.0,107.4 L127.0,106.4 L128.2,105.9 L129.5,105.4 L130.7,105.0 L132.0,104.5 L133.3,104.3 L134.7,104.6 L135.8,103.6 L136.9,102.9 L138.2,102.6 L139.5,102.5 L141.1,103.5 L142.2,102.8 L143.2,101.4 L144.4,101.0 L145.6,100.8 L146.9,100.6 L148.1,100.5 L149.5,101.0 L150.8,100.9 L151.9,99.9 L153.1,99.6 L154.4,99.5 L155.7,99.5 L157.0,100.0 L158.3,100.1 L159.5,99.2 L160.7,98.8 L162.0,98.7 L163.3,98.6 L164.6,98.7 L165.9,99.8 L167.2,99.8 L168.4,98.6 L169.7,98.3 L170.9,98.3 L172.2,98.3 L173.5,98.4 L174.7,98.6 L175.9,99.5 L177.1,100.5 L178.4,99.8 L179.8,99.2 L181.1,99.3 L182.3,99.5 L183.6,99.8 L184.8,100.3 L185.8,101.1 L187.0,101.4 L188.3,101.1 L189.5,101.3 L190.7,101.7 L191.8,102.1 L192.9,102.5 L194.0,102.9 L195.0,103.6 L195.6,105.1 L196.6,105.8 L198.1,105.2 L199.4,105.4 L200.4,105.9 L201.4,106.4 L202.4,107.0 L203.4,107.6 L204.1,108.5 L204.8,109.5 L206.0,109.7 L207.2,109.9 L208.2,110.4 L209.1,111.0 L210.1,111.7 L211.0,112.5 L211.6,113.7 L212.4,114.7 L213.9,114.9 L215.0,115.7 L216.0,116.6 L217.0,117.5 L218.0,118.5 L218.9,119.5 L218.7,121.6 L220.4,121.9 L221.8,122.5 L222.8,123.5 L223.7,124.5 L224.6,125.5 L225.5,126.6 L225.8,128.1 L226.4,129.3 L228.0,129.8 L228.9,130.9 L229.6,132.1 L229.7,133.7 L229.9,135.2 L231.6,135.8 L232.8,136.6 L233.4,137.9 L233.1,139.8 L234.9,140.3 L235.9,141.5 L236.6,142.7 L237.3,144.0 L238.0,145.3 L238.0,146.9 L238.5,148.3 L239.9,149.2 L240.7,150.3 L241.3,151.5 L241.9,152.7 L242.4,153.9 L242.8,155.0 L242.8,156.4 L242.6,157.7 L243.5,158.6 L244.5,159.4 L245.1,160.5 L245.5,161.5 L245.7,162.7 L245.5,164.0 L245.9,165.1 L246.8,166.0 L247.2,167.2 L247.3,168.5 L247.0,169.9 L247.8,171.0 L248.6,172.1 L248.9,173.4 L249.2,174.6 L249.5,175.8 L249.6,177.1 L249.0,178.4 L249.6,179.5 L250.2,180.6 L250.3,181.7 L250.3,182.8 L250.3,183.9 L250.3,185.0 L250.2,186.1 L249.8,187.1 L249.1,188.1 L248.8,189.1 L249.1,190.1 L249.4,191.1 L249.4,192.1 L249.2,193.0 L249.0,193.9 L248.8,194.7 L248.5,195.5 L248.3,196.3 L247.9,197.1 L247.4,197.7 L246.5,198.2 L245.9,198.7 L246.0,199.6 L246.1,200.5 L245.9,201.2 L245.6,201.8 L245.2,202.4 L244.8,202.9 L244.4,203.5 L244.0,204.0 L243.4,204.4 L242.7,204.6 L241.9,204.6 L241.2,204.7 L240.9,205.1 L240.7,205.8 L240.5,206.4 L240.2,206.9 L239.7,207.1 L239.2,207.2 L238.7,207.2 L238.2,207.2 L237.6,207.1 L237.1,207.0 L236.5,206.9 L236.0,206.6 L235.5,206.2 L235.0,205.6 L234.4,205.1 L233.8,204.8 L233.1,205.0 L232.4,205.5 L231.7,205.8 L231.0,205.9 L230.3,205.8 L229.6,205.8 L228.8,205.7 L228.1,205.6 L227.4,205.4 L226.7,205.0 L226.0,204.5 L225.2,204.2 L224.5,204.5 L223.9,205.1 L223.2,205.5 L222.5,205.7 L221.8,205.8 L221.0,205.9 L220.3,205.8 L219.5,205.6 L218.7,205.4 L217.9,205.5 L217.3,206.1 L216.8,206.7 L216.3,207.3 L215.8,207.7 L215.3,208.1 L214.8,208.5 L214.3,208.9 L213.8,209.3 L213.3,209.7 L212.7,210.1 L211.9,210.2 L210.8,210.1 L210.4,210.8 L210.3,211.9 L209.7,212.6 L209.0,213.1 L208.2,213.6 L207.4,214.2 L206.6,214.7 L205.5,214.8 L204.2,214.7 L203.8,216.0 L203.2,217.0 L202.3,217.6 L201.4,218.1 L200.4,218.7 L199.4,219.3 L198.2,219.6 L196.6,219.1 L196.0,220.6 L195.1,221.6 L194.0,222.2 L192.9,222.7 L191.7,223.3 L190.4,223.5 L188.9,223.3 L187.9,224.1 L187.1,225.3 L186.1,225.9 L185.0,226.3 L183.8,226.5 L182.3,226.0 L181.2,226.2 L180.4,227.6 L179.4,228.4 L178.3,228.6 L177.0,228.5 L175.9,228.9 L175.0,229.8 L173.9,230.3 L172.8,230.7 L171.7,231.1 L170.5,231.5 L169.4,231.8 L168.2,232.1 L166.9,232.0 L165.7,232.0 L164.8,233.0 L163.8,233.6 L162.7,233.9 L161.6,234.2 L160.6,234.5 L159.5,234.7 L158.4,234.3 L157.3,234.1 L156.4,235.0 L155.5,235.6 L154.6,235.9 L153.6,236.1 L152.6,236.1 L151.7,235.8 L150.7,235.3 L149.9,235.4 L149.0,236.0 L148.1,236.3 L147.3,236.2 L146.5,236.1 L145.7,235.9 L145.0,235.4 L144.4,234.6 L143.8,234.1 L142.9,234.1 L142.0,234.3 L141.1,234.2 L140.4,233.9 L139.7,233.3 L139.3,232.4 L138.7,231.6 L137.8,231.6 L136.8,231.8 L135.9,231.6 L135.1,231.2 L134.4,230.8 L133.7,230.2 L133.3,229.4 L133.0,228.6 L132.5,227.9 L131.7,227.6 L130.8,227.2 L130.2,226.6 L129.7,225.8 L129.3,225.0 L129.1,224.0 L129.3,222.9 L128.8,222.1 L127.9,221.4 L127.5,220.6 L127.2,219.7 L127.0,218.8 L126.9,218.0 L126.9,217.1 L126.9,216.2 L127.2,215.3 L128.0,214.5 L128.3,213.5 L128.1,212.4 L128.1,211.5 L128.4,210.6 L128.6,209.8 L128.7,209.2 L128.9,208.6 L128.9,208.1 L128.9,207.6 L128.6,207.1 L128.0,206.8 L127.4,206.6 L126.7,206.5 L126.2,206.7 L126.0,207.3 L125.8,208.2 L125.5,208.9 L125.0,209.3 L124.4,209.6 L123.7,209.9 L122.9,210.2 L122.1,210.4 L121.2,210.7 L120.2,211.1 L119.1,211.3 L117.9,211.0 L116.8,211.4 L115.9,212.4 L114.9,212.9 L113.8,213.2 L112.7,213.6 L111.7,213.9 L110.7,214.1 L109.4,213.6 L108.1,213.4 L107.5,214.7 L106.8,215.7 L105.9,216.2 L104.9,216.5 L103.8,216.6 L102.7,216.3 L101.8,216.5 L100.8,217.2 L99.8,217.5 L98.7,217.4 L97.6,216.9 L96.6,215.7 L95.5,215.5 L94.0,216.3 L92.7,216.3 L91.6,215.8 L90.6,214.9 L89.5,214.1 L88.2,214.3 L86.9,214.2 L85.9,213.7 L84.9,213.2 L83.9,212.6 L83.1,212.0 L82.7,210.6 L82.2,209.4 L80.7,209.7 L79.5,209.4 L78.7,208.6 L78.1,207.8 L77.9,206.6 L77.4,205.7 L76.3,205.3 L75.4,204.9 L74.8,204.2 L74.2,203.4 L73.8,202.6 L73.7,201.6 L73.9,200.5 L73.4,199.8 L72.4,199.2 L71.8,198.5 L71.5,197.6 L71.2,196.7 L71.0,195.8 L71.0,194.8 L71.4,193.7 L71.4,192.7 L70.6,191.9 L69.9,191.0 L69.6,190.0 L69.6,188.9 L69.8,187.9 L70.0,186.8 L69.7,185.8 L69.2,184.8 L69.0,183.8 L68.9,182.8 L68.9,181.8 L68.9,180.8 L68.9,179.8 L68.9,178.8 L69.4,177.8 L70.7,176.8 L70.5,175.7 L69.4,174.6 L69.2,173.5 L69.2,172.4Z" fill="url(#bshade)"/>
    <path d="M69.4,171.3 L70.4,170.2 L70.6,169.0 L69.7,167.6 L69.6,166.3 L69.7,165.0 L69.8,163.7 L70.0,162.3 L71.2,161.2 L71.2,159.9 L70.5,158.6 L70.7,157.4 L71.4,156.4 L72.8,155.8 L72.9,154.8 L72.2,153.5 L72.4,152.6 L72.8,151.8 L73.3,151.0 L74.0,150.4 L75.3,150.2 L76.3,149.6 L75.9,148.2 L75.9,147.0 L76.4,146.0 L77.0,145.0 L77.7,144.0 L78.4,143.0 L79.2,142.0 L80.6,141.4 L81.5,140.5 L81.6,138.8 L82.2,137.6 L83.3,136.8 L84.9,136.4 L85.6,135.2 L85.8,133.6 L86.5,132.5 L87.4,131.6 L88.3,130.7 L89.7,130.3 L91.2,129.9 L91.4,128.2 L92.0,127.0 L93.2,126.2 L95.0,126.2 L95.7,125.1 L96.2,123.5 L97.2,122.5 L98.4,121.7 L99.9,121.3 L101.1,120.4 L102.0,119.0 L103.2,118.1 L104.5,117.2 L106.1,117.0 L107.9,116.9 L108.5,115.1 L109.6,114.0 L110.8,113.2 L112.1,112.5 L113.4,111.9 L115.2,112.4 L116.4,111.9 L117.1,110.2 L118.3,109.6 L119.5,109.1 L120.8,108.6 L122.1,108.2 L123.5,108.2 L125.0,108.4 L126.0,107.4 L127.0,106.4 L128.2,105.9 L129.5,105.4 L130.7,105.0 L132.0,104.5 L133.3,104.3 L134.7,104.6 L135.8,103.6 L136.9,102.9 L138.2,102.6 L139.5,102.5 L141.1,103.5 L142.2,102.8 L143.2,101.4 L144.4,101.0 L145.6,100.8 L146.9,100.6 L148.1,100.5 L149.5,101.0 L150.8,100.9 L151.9,99.9 L153.1,99.6 L154.4,99.5 L155.7,99.5 L157.0,100.0 L158.3,100.1 L159.5,99.2 L160.7,98.8 L162.0,98.7 L163.3,98.6 L164.6,98.7 L165.9,99.8 L167.2,99.8 L168.4,98.6 L169.7,98.3 L170.9,98.3 L172.2,98.3 L173.5,98.4 L174.7,98.6 L175.9,99.5 L177.1,100.5 L178.4,99.8 L179.8,99.2 L181.1,99.3 L182.3,99.5 L183.6,99.8 L184.8,100.3 L185.8,101.1 L187.0,101.4 L188.3,101.1 L189.5,101.3 L190.7,101.7 L191.8,102.1 L192.9,102.5 L194.0,102.9 L195.0,103.6 L195.6,105.1 L196.6,105.8 L198.1,105.2 L199.4,105.4 L200.4,105.9 L201.4,106.4 L202.4,107.0 L203.4,107.6 L204.1,108.5 L204.8,109.5 L206.0,109.7 L207.2,109.9 L208.2,110.4 L209.1,111.0 L210.1,111.7 L211.0,112.5 L211.6,113.7 L212.4,114.7 L213.9,114.9 L215.0,115.7 L216.0,116.6 L217.0,117.5 L218.0,118.5 L218.9,119.5 L218.7,121.6 L220.4,121.9 L221.8,122.5 L222.8,123.5 L223.7,124.5 L224.6,125.5 L225.5,126.6 L225.8,128.1 L226.4,129.3 L228.0,129.8 L228.9,130.9 L229.6,132.1 L229.7,133.7 L229.9,135.2 L231.6,135.8 L232.8,136.6 L233.4,137.9 L233.1,139.8 L234.9,140.3 L235.9,141.5 L236.6,142.7 L237.3,144.0 L238.0,145.3 L238.0,146.9 L238.5,148.3 L239.9,149.2 L240.7,150.3 L241.3,151.5 L241.9,152.7 L242.4,153.9 L242.8,155.0 L242.8,156.4 L242.6,157.7 L243.5,158.6 L244.5,159.4 L245.1,160.5 L245.5,161.5 L245.7,162.7 L245.5,164.0 L245.9,165.1 L246.8,166.0 L247.2,167.2 L247.3,168.5 L247.0,169.9 L247.8,171.0 L248.6,172.1 L248.9,173.4 L249.2,174.6 L249.5,175.8 L249.6,177.1 L249.0,178.4 L249.6,179.5 L250.2,180.6 L250.3,181.7 L250.3,182.8 L250.3,183.9 L250.3,185.0 L250.2,186.1 L249.8,187.1 L249.1,188.1 L248.8,189.1 L249.1,190.1 L249.4,191.1 L249.4,192.1 L249.2,193.0 L249.0,193.9 L248.8,194.7 L248.5,195.5 L248.3,196.3 L247.9,197.1 L247.4,197.7 L246.5,198.2 L245.9,198.7 L246.0,199.6 L246.1,200.5 L245.9,201.2 L245.6,201.8 L245.2,202.4 L244.8,202.9 L244.4,203.5 L244.0,204.0 L243.4,204.4 L242.7,204.6 L241.9,204.6 L241.2,204.7 L240.9,205.1 L240.7,205.8 L240.5,206.4 L240.2,206.9 L239.7,207.1 L239.2,207.2 L238.7,207.2 L238.2,207.2 L237.6,207.1 L237.1,207.0 L236.5,206.9 L236.0,206.6 L235.5,206.2 L235.0,205.6 L234.4,205.1 L233.8,204.8 L233.1,205.0 L232.4,205.5 L231.7,205.8 L231.0,205.9 L230.3,205.8 L229.6,205.8 L228.8,205.7 L228.1,205.6 L227.4,205.4 L226.7,205.0 L226.0,204.5 L225.2,204.2 L224.5,204.5 L223.9,205.1 L223.2,205.5 L222.5,205.7 L221.8,205.8 L221.0,205.9 L220.3,205.8 L219.5,205.6 L218.7,205.4 L217.9,205.5 L217.3,206.1 L216.8,206.7 L216.3,207.3 L215.8,207.7 L215.3,208.1 L214.8,208.5 L214.3,208.9 L213.8,209.3 L213.3,209.7 L212.7,210.1 L211.9,210.2 L210.8,210.1 L210.4,210.8 L210.3,211.9 L209.7,212.6 L209.0,213.1 L208.2,213.6 L207.4,214.2 L206.6,214.7 L205.5,214.8 L204.2,214.7 L203.8,216.0 L203.2,217.0 L202.3,217.6 L201.4,218.1 L200.4,218.7 L199.4,219.3 L198.2,219.6 L196.6,219.1 L196.0,220.6 L195.1,221.6 L194.0,222.2 L192.9,222.7 L191.7,223.3 L190.4,223.5 L188.9,223.3 L187.9,224.1 L187.1,225.3 L186.1,225.9 L185.0,226.3 L183.8,226.5 L182.3,226.0 L181.2,226.2 L180.4,227.6 L179.4,228.4 L178.3,228.6 L177.0,228.5 L175.9,228.9 L175.0,229.8 L173.9,230.3 L172.8,230.7 L171.7,231.1 L170.5,231.5 L169.4,231.8 L168.2,232.1 L166.9,232.0 L165.7,232.0 L164.8,233.0 L163.8,233.6 L162.7,233.9 L161.6,234.2 L160.6,234.5 L159.5,234.7 L158.4,234.3 L157.3,234.1 L156.4,235.0 L155.5,235.6 L154.6,235.9 L153.6,236.1 L152.6,236.1 L151.7,235.8 L150.7,235.3 L149.9,235.4 L149.0,236.0 L148.1,236.3 L147.3,236.2 L146.5,236.1 L145.7,235.9 L145.0,235.4 L144.4,234.6 L143.8,234.1 L142.9,234.1 L142.0,234.3 L141.1,234.2 L140.4,233.9 L139.7,233.3 L139.3,232.4 L138.7,231.6 L137.8,231.6 L136.8,231.8 L135.9,231.6 L135.1,231.2 L134.4,230.8 L133.7,230.2 L133.3,229.4 L133.0,228.6 L132.5,227.9 L131.7,227.6 L130.8,227.2 L130.2,226.6 L129.7,225.8 L129.3,225.0 L129.1,224.0 L129.3,222.9 L128.8,222.1 L127.9,221.4 L127.5,220.6 L127.2,219.7 L127.0,218.8 L126.9,218.0 L126.9,217.1 L126.9,216.2 L127.2,215.3 L128.0,214.5 L128.3,213.5 L128.1,212.4 L128.1,211.5 L128.4,210.6 L128.6,209.8 L128.7,209.2 L128.9,208.6 L128.9,208.1 L128.9,207.6 L128.6,207.1 L128.0,206.8 L127.4,206.6 L126.7,206.5 L126.2,206.7 L126.0,207.3 L125.8,208.2 L125.5,208.9 L125.0,209.3 L124.4,209.6 L123.7,209.9 L122.9,210.2 L122.1,210.4 L121.2,210.7 L120.2,211.1 L119.1,211.3 L117.9,211.0 L116.8,211.4 L115.9,212.4 L114.9,212.9 L113.8,213.2 L112.7,213.6 L111.7,213.9 L110.7,214.1 L109.4,213.6 L108.1,213.4 L107.5,214.7 L106.8,215.7 L105.9,216.2 L104.9,216.5 L103.8,216.6 L102.7,216.3 L101.8,216.5 L100.8,217.2 L99.8,217.5 L98.7,217.4 L97.6,216.9 L96.6,215.7 L95.5,215.5 L94.0,216.3 L92.7,216.3 L91.6,215.8 L90.6,214.9 L89.5,214.1 L88.2,214.3 L86.9,214.2 L85.9,213.7 L84.9,213.2 L83.9,212.6 L83.1,212.0 L82.7,210.6 L82.2,209.4 L80.7,209.7 L79.5,209.4 L78.7,208.6 L78.1,207.8 L77.9,206.6 L77.4,205.7 L76.3,205.3 L75.4,204.9 L74.8,204.2 L74.2,203.4 L73.8,202.6 L73.7,201.6 L73.9,200.5 L73.4,199.8 L72.4,199.2 L71.8,198.5 L71.5,197.6 L71.2,196.7 L71.0,195.8 L71.0,194.8 L71.4,193.7 L71.4,192.7 L70.6,191.9 L69.9,191.0 L69.6,190.0 L69.6,188.9 L69.8,187.9 L70.0,186.8 L69.7,185.8 L69.2,184.8 L69.0,183.8 L68.9,182.8 L68.9,181.8 L68.9,180.8 L68.9,179.8 L68.9,178.8 L69.4,177.8 L70.7,176.8 L70.5,175.7 L69.4,174.6 L69.2,173.5 L69.2,172.4Z" fill="none" stroke="#6e6e6e" stroke-width="4.5" opacity="0.45" filter="url(#bblur)"/>
  </g>
  <path d="M69.4,171.3 L70.4,170.2 L70.6,169.0 L69.7,167.6 L69.6,166.3 L69.7,165.0 L69.8,163.7 L70.0,162.3 L71.2,161.2 L71.2,159.9 L70.5,158.6 L70.7,157.4 L71.4,156.4 L72.8,155.8 L72.9,154.8 L72.2,153.5 L72.4,152.6 L72.8,151.8 L73.3,151.0 L74.0,150.4 L75.3,150.2 L76.3,149.6 L75.9,148.2 L75.9,147.0 L76.4,146.0 L77.0,145.0 L77.7,144.0 L78.4,143.0 L79.2,142.0 L80.6,141.4 L81.5,140.5 L81.6,138.8 L82.2,137.6 L83.3,136.8 L84.9,136.4 L85.6,135.2 L85.8,133.6 L86.5,132.5 L87.4,131.6 L88.3,130.7 L89.7,130.3 L91.2,129.9 L91.4,128.2 L92.0,127.0 L93.2,126.2 L95.0,126.2 L95.7,125.1 L96.2,123.5 L97.2,122.5 L98.4,121.7 L99.9,121.3 L101.1,120.4 L102.0,119.0 L103.2,118.1 L104.5,117.2 L106.1,117.0 L107.9,116.9 L108.5,115.1 L109.6,114.0 L110.8,113.2 L112.1,112.5 L113.4,111.9 L115.2,112.4 L116.4,111.9 L117.1,110.2 L118.3,109.6 L119.5,109.1 L120.8,108.6 L122.1,108.2 L123.5,108.2 L125.0,108.4 L126.0,107.4 L127.0,106.4 L128.2,105.9 L129.5,105.4 L130.7,105.0 L132.0,104.5 L133.3,104.3 L134.7,104.6 L135.8,103.6 L136.9,102.9 L138.2,102.6 L139.5,102.5 L141.1,103.5 L142.2,102.8 L143.2,101.4 L144.4,101.0 L145.6,100.8 L146.9,100.6 L148.1,100.5 L149.5,101.0 L150.8,100.9 L151.9,99.9 L153.1,99.6 L154.4,99.5 L155.7,99.5 L157.0,100.0 L158.3,100.1 L159.5,99.2 L160.7,98.8 L162.0,98.7 L163.3,98.6 L164.6,98.7 L165.9,99.8 L167.2,99.8 L168.4,98.6 L169.7,98.3 L170.9,98.3 L172.2,98.3 L173.5,98.4 L174.7,98.6 L175.9,99.5 L177.1,100.5 L178.4,99.8 L179.8,99.2 L181.1,99.3 L182.3,99.5 L183.6,99.8 L184.8,100.3 L185.8,101.1 L187.0,101.4 L188.3,101.1 L189.5,101.3 L190.7,101.7 L191.8,102.1 L192.9,102.5 L194.0,102.9 L195.0,103.6 L195.6,105.1 L196.6,105.8 L198.1,105.2 L199.4,105.4 L200.4,105.9 L201.4,106.4 L202.4,107.0 L203.4,107.6 L204.1,108.5 L204.8,109.5 L206.0,109.7 L207.2,109.9 L208.2,110.4 L209.1,111.0 L210.1,111.7 L211.0,112.5 L211.6,113.7 L212.4,114.7 L213.9,114.9 L215.0,115.7 L216.0,116.6 L217.0,117.5 L218.0,118.5 L218.9,119.5 L218.7,121.6 L220.4,121.9 L221.8,122.5 L222.8,123.5 L223.7,124.5 L224.6,125.5 L225.5,126.6 L225.8,128.1 L226.4,129.3 L228.0,129.8 L228.9,130.9 L229.6,132.1 L229.7,133.7 L229.9,135.2 L231.6,135.8 L232.8,136.6 L233.4,137.9 L233.1,139.8 L234.9,140.3 L235.9,141.5 L236.6,142.7 L237.3,144.0 L238.0,145.3 L238.0,146.9 L238.5,148.3 L239.9,149.2 L240.7,150.3 L241.3,151.5 L241.9,152.7 L242.4,153.9 L242.8,155.0 L242.8,156.4 L242.6,157.7 L243.5,158.6 L244.5,159.4 L245.1,160.5 L245.5,161.5 L245.7,162.7 L245.5,164.0 L245.9,165.1 L246.8,166.0 L247.2,167.2 L247.3,168.5 L247.0,169.9 L247.8,171.0 L248.6,172.1 L248.9,173.4 L249.2,174.6 L249.5,175.8 L249.6,177.1 L249.0,178.4 L249.6,179.5 L250.2,180.6 L250.3,181.7 L250.3,182.8 L250.3,183.9 L250.3,185.0 L250.2,186.1 L249.8,187.1 L249.1,188.1 L248.8,189.1 L249.1,190.1 L249.4,191.1 L249.4,192.1 L249.2,193.0 L249.0,193.9 L248.8,194.7 L248.5,195.5 L248.3,196.3 L247.9,197.1 L247.4,197.7 L246.5,198.2 L245.9,198.7 L246.0,199.6 L246.1,200.5 L245.9,201.2 L245.6,201.8 L245.2,202.4 L244.8,202.9 L244.4,203.5 L244.0,204.0 L243.4,204.4 L242.7,204.6 L241.9,204.6 L241.2,204.7 L240.9,205.1 L240.7,205.8 L240.5,206.4 L240.2,206.9 L239.7,207.1 L239.2,207.2 L238.7,207.2 L238.2,207.2 L237.6,207.1 L237.1,207.0 L236.5,206.9 L236.0,206.6 L235.5,206.2 L235.0,205.6 L234.4,205.1 L233.8,204.8 L233.1,205.0 L232.4,205.5 L231.7,205.8 L231.0,205.9 L230.3,205.8 L229.6,205.8 L228.8,205.7 L228.1,205.6 L227.4,205.4 L226.7,205.0 L226.0,204.5 L225.2,204.2 L224.5,204.5 L223.9,205.1 L223.2,205.5 L222.5,205.7 L221.8,205.8 L221.0,205.9 L220.3,205.8 L219.5,205.6 L218.7,205.4 L217.9,205.5 L217.3,206.1 L216.8,206.7 L216.3,207.3 L215.8,207.7 L215.3,208.1 L214.8,208.5 L214.3,208.9 L213.8,209.3 L213.3,209.7 L212.7,210.1 L211.9,210.2 L210.8,210.1 L210.4,210.8 L210.3,211.9 L209.7,212.6 L209.0,213.1 L208.2,213.6 L207.4,214.2 L206.6,214.7 L205.5,214.8 L204.2,214.7 L203.8,216.0 L203.2,217.0 L202.3,217.6 L201.4,218.1 L200.4,218.7 L199.4,219.3 L198.2,219.6 L196.6,219.1 L196.0,220.6 L195.1,221.6 L194.0,222.2 L192.9,222.7 L191.7,223.3 L190.4,223.5 L188.9,223.3 L187.9,224.1 L187.1,225.3 L186.1,225.9 L185.0,226.3 L183.8,226.5 L182.3,226.0 L181.2,226.2 L180.4,227.6 L179.4,228.4 L178.3,228.6 L177.0,228.5 L175.9,228.9 L175.0,229.8 L173.9,230.3 L172.8,230.7 L171.7,231.1 L170.5,231.5 L169.4,231.8 L168.2,232.1 L166.9,232.0 L165.7,232.0 L164.8,233.0 L163.8,233.6 L162.7,233.9 L161.6,234.2 L160.6,234.5 L159.5,234.7 L158.4,234.3 L157.3,234.1 L156.4,235.0 L155.5,235.6 L154.6,235.9 L153.6,236.1 L152.6,236.1 L151.7,235.8 L150.7,235.3 L149.9,235.4 L149.0,236.0 L148.1,236.3 L147.3,236.2 L146.5,236.1 L145.7,235.9 L145.0,235.4 L144.4,234.6 L143.8,234.1 L142.9,234.1 L142.0,234.3 L141.1,234.2 L140.4,233.9 L139.7,233.3 L139.3,232.4 L138.7,231.6 L137.8,231.6 L136.8,231.8 L135.9,231.6 L135.1,231.2 L134.4,230.8 L133.7,230.2 L133.3,229.4 L133.0,228.6 L132.5,227.9 L131.7,227.6 L130.8,227.2 L130.2,226.6 L129.7,225.8 L129.3,225.0 L129.1,224.0 L129.3,222.9 L128.8,222.1 L127.9,221.4 L127.5,220.6 L127.2,219.7 L127.0,218.8 L126.9,218.0 L126.9,217.1 L126.9,216.2 L127.2,215.3 L128.0,214.5 L128.3,213.5 L128.1,212.4 L128.1,211.5 L128.4,210.6 L128.6,209.8 L128.7,209.2 L128.9,208.6 L128.9,208.1 L128.9,207.6 L128.6,207.1 L128.0,206.8 L127.4,206.6 L126.7,206.5 L126.2,206.7 L126.0,207.3 L125.8,208.2 L125.5,208.9 L125.0,209.3 L124.4,209.6 L123.7,209.9 L122.9,210.2 L122.1,210.4 L121.2,210.7 L120.2,211.1 L119.1,211.3 L117.9,211.0 L116.8,211.4 L115.9,212.4 L114.9,212.9 L113.8,213.2 L112.7,213.6 L111.7,213.9 L110.7,214.1 L109.4,213.6 L108.1,213.4 L107.5,214.7 L106.8,215.7 L105.9,216.2 L104.9,216.5 L103.8,216.6 L102.7,216.3 L101.8,216.5 L100.8,217.2 L99.8,217.5 L98.7,217.4 L97.6,216.9 L96.6,215.7 L95.5,215.5 L94.0,216.3 L92.7,216.3 L91.6,215.8 L90.6,214.9 L89.5,214.1 L88.2,214.3 L86.9,214.2 L85.9,213.7 L84.9,213.2 L83.9,212.6 L83.1,212.0 L82.7,210.6 L82.2,209.4 L80.7,209.7 L79.5,209.4 L78.7,208.6 L78.1,207.8 L77.9,206.6 L77.4,205.7 L76.3,205.3 L75.4,204.9 L74.8,204.2 L74.2,203.4 L73.8,202.6 L73.7,201.6 L73.9,200.5 L73.4,199.8 L72.4,199.2 L71.8,198.5 L71.5,197.6 L71.2,196.7 L71.0,195.8 L71.0,194.8 L71.4,193.7 L71.4,192.7 L70.6,191.9 L69.9,191.0 L69.6,190.0 L69.6,188.9 L69.8,187.9 L70.0,186.8 L69.7,185.8 L69.2,184.8 L69.0,183.8 L68.9,182.8 L68.9,181.8 L68.9,180.8 L68.9,179.8 L68.9,178.8 L69.4,177.8 L70.7,176.8 L70.5,175.7 L69.4,174.6 L69.2,173.5 L69.2,172.4Z" fill="none" stroke="#9c9c9c" stroke-width="0.7" opacity="0.8"/>
</g>
</defs>
<defs>
<clipPath id="mclip"><path d="M649.7,361.2 C649.7,359.0 649.9,356.9 650.8,353.8 C651.7,350.7 653.0,346.2 654.9,342.6 C656.8,339.0 659.5,335.5 662.3,332.4 C665.1,329.3 668.2,326.3 671.6,324.1 C675.0,321.9 678.7,320.1 682.7,319.1 C686.7,318.1 691.4,317.7 695.7,317.9 C700.0,318.1 704.4,318.9 708.7,320.4 C713.0,321.9 717.7,324.3 721.7,326.9 C725.7,329.5 729.6,332.7 732.9,336.1 C736.1,339.5 739.3,343.9 741.2,347.3 C743.1,350.7 744.1,353.7 744.4,356.6 C744.7,359.5 744.4,362.3 743.1,364.9 C741.8,367.5 739.2,370.2 736.6,372.4 C734.0,374.6 729.8,376.0 727.3,377.9 C724.8,379.8 723.9,381.6 721.7,383.5 C719.5,385.4 716.8,388.0 714.3,389.1 C711.8,390.2 708.9,390.5 706.9,390.0 C704.9,389.5 703.5,387.9 702.2,386.3 C701.0,384.8 700.8,382.2 699.4,380.7 C698.0,379.1 696.4,377.8 693.9,377.0 C691.4,376.2 688.0,376.4 684.6,376.1 C681.2,375.8 677.1,375.5 673.4,375.2 C669.7,374.9 665.4,374.8 662.3,374.2 C659.2,373.6 656.8,372.6 654.9,371.4 C653.0,370.2 651.7,368.5 650.8,366.8 C649.9,365.1 649.7,363.4 649.7,361.2Z"/></clipPath>
<filter id="mlit" filterUnits="userSpaceOnUse" x="644" y="312" width="106" height="84" color-interpolation-filters="sRGB">
  <feTurbulence type="fractalNoise" baseFrequency="0.07 0.075" numOctaves="2" seed="5" result="n"/>
  <feColorMatrix in="n" type="matrix" values="0 0 0 0 0  0 0 0 0 0  0 0 0 0 0  1 0 0 0 0" result="a"/>
  <feComponentTransfer in="a" result="ridge"><feFuncA type="table" tableValues="1 1 1 1 1 1 1 0.95 0.85 0.78 0.85 0.95 1 1 1 1 1 1 1"/></feComponentTransfer>
  <feComponentTransfer in="a" result="rdark"><feFuncA type="table" tableValues="0 0 0 0 0 0 0 0 0.16 0.3 0.16 0 0 0 0 0 0 0 0"/></feComponentTransfer>
  <feGaussianBlur in="ridge" stdDeviation="0.85" result="hb"/>
  <feDiffuseLighting in="hb" surfaceScale="1.1" diffuseConstant="1" lighting-color="#f3f3f3" result="lit"><feDistantLight azimuth="225" elevation="66"/></feDiffuseLighting>
  <feComposite in="rdark" in2="lit" operator="over"/>
</filter>
<filter id="mblur" x="-10%" y="-10%" width="120%" height="120%"><feGaussianBlur stdDeviation="1.6"/></filter>
<filter id="mblur2" x="-20%" y="-20%" width="140%" height="140%"><feGaussianBlur stdDeviation="0.8"/></filter>
</defs>
<rect x="0" y="0" width="800" height="452" fill="#fff"/>
<g fill="#fff" stroke="#e3e5ee" stroke-width="1.6">
<rect x="58.4" y="54.8" width="209.2" height="189.5"/>
<rect x="58.4" y="256.6" width="209.2" height="200"/>
<rect x="308.6" y="151.7" width="209.2" height="197.1"/>
<rect x="557.3" y="102.9" width="197.3" height="317.7"/>
</g>
<rect x="620.5" y="55" width="134.2" height="26.8" fill="#fff" stroke="#a6a6a6" stroke-width="1"/>
<use href="#brain"/>
<g fill="rgb(92,156,213)" opacity="0.92"><rect x="-16.8" y="-6.6" width="33.6" height="13.2" rx="12" ry="6.6" transform="translate(162,187) rotate(-23.5)"/><rect x="-17.4" y="-6.9" width="34.8" height="13.8" rx="12.5" ry="6.9" transform="translate(185.8,178.4) rotate(-24)"/></g><path d="M171.5,177.2 Q175.5,182 173.8,188.5" fill="none" stroke="#4f8cc6" stroke-width="0.6" opacity="0.6"/>
<use href="#brain" transform="translate(0,203)"/>
<rect x="-8" y="-11.3" width="16" height="22.6" rx="8" ry="9.8" transform="translate(143,372.2) rotate(4)" fill="rgb(230,120,117)" opacity="0.93"/>
<use href="#brain" transform="translate(254.7,101)"/>
<use href="#brain" transform="translate(566,197.3) scale(0.944) translate(-69.3,-98.3)"/>
<g fill="rgb(187,131,198)" fill-opacity="0.9">
<path d="M386.0,238.8 C385.8,236.7 387.1,234.0 388.8,231.6 C390.5,229.2 393.6,226.6 396.0,224.4 C398.4,222.2 401.0,218.8 403.2,218.6 C405.4,218.3 408.0,220.7 409.0,222.9 C410.0,225.1 409.7,228.7 409.0,231.6 C408.3,234.5 406.5,237.9 404.6,240.2 C402.7,242.4 399.9,244.4 397.5,245.1 C395.1,245.8 392.2,245.6 390.3,244.5 C388.4,243.4 386.2,241.0 386.0,238.8Z"/>
<path d="M381.1,250.3 C382.3,249.1 384.5,247.9 386.0,248.8 C387.5,249.8 389.4,252.9 390.3,256.0 C391.2,259.1 391.7,263.4 391.7,267.5 C391.7,271.6 391.2,277.5 390.3,280.5 C389.4,283.5 388.2,284.8 386.0,285.4 C383.8,286.0 380.4,284.8 377.3,284.2 C374.2,283.6 369.4,282.9 367.3,281.9 C365.2,280.9 364.5,279.8 365.0,278.4 C365.5,277.0 368.1,275.4 370.1,273.3 C372.2,271.2 375.9,269.0 377.3,266.1 C378.8,263.2 378.2,258.6 378.8,256.0 C379.4,253.4 379.9,251.5 381.1,250.3Z"/>
<path d="M360.9,287.7 C362.1,286.3 364.5,285.5 365.8,286.2 C367.1,286.9 367.7,289.8 368.7,292.0 C369.7,294.2 370.2,297.3 371.6,299.2 C373.0,301.1 376.4,301.8 377.3,303.5 C378.2,305.2 378.2,307.6 377.3,309.2 C376.4,310.8 373.8,312.8 371.6,313.0 C369.5,313.2 366.5,312.3 364.4,310.7 C362.3,309.1 360.2,306.1 359.2,303.5 C358.2,300.9 358.3,297.4 358.6,294.8 C358.9,292.2 359.7,289.1 360.9,287.7Z"/>
<path d="M380.2,317.9 C381.0,315.3 382.4,310.9 384.5,307.8 C386.6,304.7 389.5,301.7 393.1,299.2 C396.7,296.7 401.5,294.5 406.1,292.8 C410.7,291.1 416.4,290.1 420.5,289.1 C424.6,288.2 428.2,286.8 430.5,287.1 C432.8,287.4 433.8,289.1 434.0,291.1 C434.2,293.1 433.5,296.7 432.0,299.2 C430.5,301.7 427.7,303.9 424.8,306.3 C421.9,308.7 417.8,310.6 414.7,313.5 C411.6,316.4 409.0,320.5 406.1,323.6 C403.2,326.7 400.4,330.3 397.5,332.2 C394.6,334.1 391.4,335.3 388.8,335.1 C386.2,334.9 383.7,332.7 382.2,330.8 C380.7,328.9 379.9,325.8 379.6,323.6 C379.3,321.5 379.4,320.5 380.2,317.9Z"/>
<path d="M437.7,286.2 C438.2,283.8 439.6,281.4 442.0,279.0 C444.4,276.6 449.0,274.4 452.1,271.8 C455.2,269.2 458.3,265.7 460.7,263.2 C463.1,260.7 464.3,257.9 466.5,256.6 C468.7,255.3 471.4,254.9 473.7,255.4 C475.9,255.9 478.6,257.5 480.0,259.5 C481.4,261.5 482.2,264.5 482.3,267.5 C482.4,270.5 481.9,274.5 480.9,277.6 C479.9,280.7 478.7,283.8 476.5,286.2 C474.3,288.6 471.2,290.4 467.9,292.0 C464.5,293.6 460.2,294.9 456.4,295.7 C452.6,296.5 447.8,297.3 444.9,296.9 C442.0,296.5 440.4,295.2 439.2,293.4 C438.0,291.6 437.2,288.6 437.7,286.2Z"/>
</g>
<g><path d="M577.8,247 L597,226.4" stroke="rgb(98,165,88)" stroke-width="13" stroke-linecap="round" fill="none" stroke-opacity="0.88"/>
<path d="M603.1,274 L599,291.5" stroke="rgb(98,165,88)" stroke-width="14" stroke-linecap="round" fill="none" stroke-opacity="0.88"/>
<path d="M618.5,212.6 L636,215.5" stroke="rgb(158,215,144)" stroke-width="10" stroke-linecap="round" fill="none" stroke-opacity="0.88"/>
<path d="M629.3,231 L630.3,254" stroke="rgb(158,215,144)" stroke-width="12.6" stroke-linecap="round" fill="none" stroke-opacity="0.88"/>
<path d="M600.6,250.5 L590.5,267" stroke="rgb(158,215,144)" stroke-width="15" stroke-linecap="round" fill="none" stroke-opacity="0.88"/>
<path d="M572.3,277.5 L580.4,288" stroke="rgb(158,215,144)" stroke-width="11" stroke-linecap="round" fill="none" stroke-opacity="0.88"/>
<path d="M609.3,287.5 L603.6,299.2" stroke="rgb(158,215,144)" stroke-width="11.5" stroke-linecap="round" fill="none" stroke-opacity="0.88"/>
<ellipse cx="603.1" cy="236.5" rx="8.6" ry="6.2" transform="rotate(-25 603.1 236.5)" fill="rgb(40,118,60)" fill-opacity="0.9"/>
<ellipse cx="613.2" cy="242.6" rx="3.9" ry="3.6" transform="rotate(0 613.2 242.6)" fill="rgb(98,165,88)" fill-opacity="0.88"/>
<path d="M627.3,301.5 L622,310.2" stroke="rgb(98,165,88)" stroke-width="8" stroke-linecap="round" fill="none" stroke-opacity="0.88"/>
<path d="M678,241.4 L699,222" stroke="rgb(158,215,144)" stroke-width="18.5" stroke-linecap="round" fill="none" stroke-opacity="0.88"/>
<path d="M705,241.7 L705.6,256.5" stroke="rgb(98,165,88)" stroke-width="13" stroke-linecap="round" fill="none" stroke-opacity="0.88"/>
<ellipse cx="713.4" cy="241.3" rx="9.3" ry="16.2" transform="rotate(-14 713.4 241.3)" fill="rgb(40,118,60)" fill-opacity="0.9"/>
<path d="M687.8,297.6 L700.3,289.8" stroke="rgb(158,215,144)" stroke-width="9" stroke-linecap="round" fill="none" stroke-opacity="0.88"/>
<path d="M637.2,309.3 C638.0,305.9 640.8,298.5 642.9,294.9 C645.0,291.3 646.5,289.4 650.1,287.7 C653.7,286.0 660.4,284.8 664.5,284.8 C668.6,284.8 672.8,286.2 674.6,287.7 C676.4,289.1 676.6,291.6 675.4,293.5 C674.2,295.4 670.2,297.5 667.4,299.2 C664.6,300.9 661.2,301.6 658.8,303.5 C656.4,305.4 655.4,308.5 653.0,310.7 C650.6,312.9 646.9,315.8 644.4,316.5 C641.9,317.2 639.3,316.2 638.1,315.0 C636.9,313.8 636.4,312.7 637.2,309.3Z" fill="rgb(98,165,88)" fill-opacity="0.88"/>
<ellipse cx="642.9" cy="302.1" rx="5.7" ry="5.7" transform="rotate(0 642.9 302.1)" fill="rgb(40,118,60)" fill-opacity="0.9"/>
<ellipse cx="661.1" cy="298.6" rx="3.5" ry="3.3" transform="rotate(0 661.1 298.6)" fill="rgb(40,118,60)" fill-opacity="0.9"/></g>
<g>
<g clip-path="url(#mclip)">
  <rect x="644" y="312" width="106" height="84" filter="url(#mlit)"/>
  <path d="M677.1,351.9 C677.9,350.7 679.3,346.5 681.8,344.5 C684.3,342.5 688.1,340.6 692.0,339.9 C695.9,339.1 700.7,339.1 705.0,339.9 C709.3,340.6 714.4,342.5 718.0,344.5 C721.6,346.5 724.6,349.3 726.4,351.9 C728.2,354.6 728.4,358.9 728.8,360.3 M676.2,334.3 C677.6,334.0 681.3,332.6 684.6,332.4 C687.8,332.3 692.9,332.6 695.7,333.4 C698.5,334.1 700.4,336.5 701.3,337.1 M660.4,349.1 C661.7,350.5 665.4,354.7 667.9,357.5 C670.3,360.3 672.5,363.5 675.3,365.9 C678.1,368.2 683.0,370.5 684.6,371.4 M656.7,362.1 C658.3,363.1 662.6,366.2 666.0,367.7 C669.4,369.3 675.3,370.8 677.1,371.4 M719.9,330.6 C720.6,332.1 723.3,336.8 724.5,339.9 C725.7,343.0 726.8,347.6 727.3,349.1 M701.3,373.3 C702.8,373.3 707.5,373.9 710.6,373.3 C713.7,372.7 716.8,369.9 719.9,369.6 C723.0,369.3 727.6,371.1 729.2,371.4 M703.2,382.6 C704.7,382.3 709.3,381.8 712.4,380.7 C715.5,379.6 720.2,376.9 721.7,376.1 M686.4,325.9 C687.2,327.3 690.3,332.9 691.1,334.3 M701.3,323.1 C701.1,324.4 700.5,329.3 700.4,330.6 M689.2,353.8 C690.3,353.4 693.1,351.8 695.7,351.4 C698.4,350.9 701.9,350.6 705.0,351.0 C708.1,351.4 711.8,352.6 714.3,353.8 C716.8,355.0 719.2,357.7 720.2,358.4 M692.9,364.9 C693.4,363.9 694.0,360.0 695.7,358.4 C697.4,356.9 700.8,355.6 703.2,355.6 C705.5,355.6 708.6,358.0 709.7,358.4" fill="none" stroke="#858585" stroke-width="1" stroke-linecap="round" opacity="0.75"/>
  <path d="M681.8,355.6 C681.9,354.1 683.2,351.5 685.5,350.1 C687.8,348.7 691.9,347.7 695.7,347.3 C699.6,346.9 704.7,347.0 708.7,347.7 C712.7,348.3 717.0,349.6 719.9,351.4 C722.7,353.2 725.0,356.5 725.8,358.4 C726.6,360.4 725.7,362.7 724.5,363.1 C723.4,363.4 720.9,361.3 718.9,360.7 C716.9,360.0 713.8,358.7 712.4,359.4 C711.0,360.1 711.8,363.4 710.6,364.9 C709.3,366.5 707.2,367.9 705.0,368.6 C702.8,369.4 699.7,369.9 697.6,369.6 C695.4,369.3 693.5,368.2 692.0,366.8 C690.5,365.4 689.9,362.5 688.7,361.2 C687.4,360.0 685.7,360.3 684.6,359.4 C683.4,358.4 681.6,357.2 681.8,355.6Z" fill="#fbfbfb" opacity="0.95" filter="url(#mblur2)"/>
  <path d="M689.2,353.8 C690.3,353.4 693.1,351.8 695.7,351.4 C698.4,350.9 701.9,350.6 705.0,351.0 C708.1,351.4 711.8,352.6 714.3,353.8 C716.8,355.0 719.2,357.7 720.2,358.4 M692.9,364.9 C693.4,363.9 694.0,360.0 695.7,358.4 C697.4,356.9 700.8,355.6 703.2,355.6 C705.5,355.6 708.6,358.0 709.7,358.4" fill="none" stroke="#b5b5b5" stroke-width="0.8" opacity="0.8"/>
  <path d="M679.0,339.9 C680.2,339.6 684.0,338.0 686.4,338.0 C688.9,338.0 692.6,339.6 693.9,339.9 M679.9,356.6 C680.6,355.8 682.1,353.2 683.6,351.9 C685.2,350.7 688.3,349.6 689.2,349.1 M721.7,351.9 C722.4,353.2 725.1,358.1 725.8,359.4 M662.3,367.7 C663.8,368.2 670.0,370.0 671.6,370.5" fill="none" stroke="#fff" stroke-width="1" stroke-linecap="round" opacity="0.9"/>
  <path d="M649.7,361.2 C649.7,359.0 649.9,356.9 650.8,353.8 C651.7,350.7 653.0,346.2 654.9,342.6 C656.8,339.0 659.5,335.5 662.3,332.4 C665.1,329.3 668.2,326.3 671.6,324.1 C675.0,321.9 678.7,320.1 682.7,319.1 C686.7,318.1 691.4,317.7 695.7,317.9 C700.0,318.1 704.4,318.9 708.7,320.4 C713.0,321.9 717.7,324.3 721.7,326.9 C725.7,329.5 729.6,332.7 732.9,336.1 C736.1,339.5 739.3,343.9 741.2,347.3 C743.1,350.7 744.1,353.7 744.4,356.6 C744.7,359.5 744.4,362.3 743.1,364.9 C741.8,367.5 739.2,370.2 736.6,372.4 C734.0,374.6 729.8,376.0 727.3,377.9 C724.8,379.8 723.9,381.6 721.7,383.5 C719.5,385.4 716.8,388.0 714.3,389.1 C711.8,390.2 708.9,390.5 706.9,390.0 C704.9,389.5 703.5,387.9 702.2,386.3 C701.0,384.8 700.8,382.2 699.4,380.7 C698.0,379.1 696.4,377.8 693.9,377.0 C691.4,376.2 688.0,376.4 684.6,376.1 C681.2,375.8 677.1,375.5 673.4,375.2 C669.7,374.9 665.4,374.8 662.3,374.2 C659.2,373.6 656.8,372.6 654.9,371.4 C653.0,370.2 651.7,368.5 650.8,366.8 C649.9,365.1 649.7,363.4 649.7,361.2Z" fill="none" stroke="#707070" stroke-width="3.5" opacity="0.5" filter="url(#mblur)"/>
</g>
<path d="M649.7,361.2 C649.7,359.0 649.9,356.9 650.8,353.8 C651.7,350.7 653.0,346.2 654.9,342.6 C656.8,339.0 659.5,335.5 662.3,332.4 C665.1,329.3 668.2,326.3 671.6,324.1 C675.0,321.9 678.7,320.1 682.7,319.1 C686.7,318.1 691.4,317.7 695.7,317.9 C700.0,318.1 704.4,318.9 708.7,320.4 C713.0,321.9 717.7,324.3 721.7,326.9 C725.7,329.5 729.6,332.7 732.9,336.1 C736.1,339.5 739.3,343.9 741.2,347.3 C743.1,350.7 744.1,353.7 744.4,356.6 C744.7,359.5 744.4,362.3 743.1,364.9 C741.8,367.5 739.2,370.2 736.6,372.4 C734.0,374.6 729.8,376.0 727.3,377.9 C724.8,379.8 723.9,381.6 721.7,383.5 C719.5,385.4 716.8,388.0 714.3,389.1 C711.8,390.2 708.9,390.5 706.9,390.0 C704.9,389.5 703.5,387.9 702.2,386.3 C701.0,384.8 700.8,382.2 699.4,380.7 C698.0,379.1 696.4,377.8 693.9,377.0 C691.4,376.2 688.0,376.4 684.6,376.1 C681.2,375.8 677.1,375.5 673.4,375.2 C669.7,374.9 665.4,374.8 662.3,374.2 C659.2,373.6 656.8,372.6 654.9,371.4 C653.0,370.2 651.7,368.5 650.8,366.8 C649.9,365.1 649.7,363.4 649.7,361.2Z" fill="none" stroke="#9e9e9e" stroke-width="0.7" opacity="0.85"/>
<ellipse cx="668.8" cy="333.9" rx="7.1" ry="6.7" transform="rotate(0 668.8 333.9)" fill="rgb(158,215,144)" fill-opacity="0.9"/>
<ellipse cx="711.5" cy="338" rx="8.2" ry="11.1" transform="rotate(-32 711.5 338)" fill="rgb(158,215,144)" fill-opacity="0.9"/>
<ellipse cx="733.2" cy="343.2" rx="3.2" ry="3.7" transform="rotate(0 733.2 343.2)" fill="rgb(98,165,88)" fill-opacity="0.85"/>
<ellipse cx="734.7" cy="355.1" rx="5.2" ry="3.2" transform="rotate(0 734.7 355.1)" fill="rgb(158,215,144)" fill-opacity="0.95"/>
<ellipse cx="732.9" cy="367.7" rx="5.6" ry="3.7" transform="rotate(15 732.9 367.7)" fill="rgb(158,215,144)" fill-opacity="0.95"/>
<ellipse cx="668.8" cy="343.6" rx="6.1" ry="4.1" transform="rotate(25 668.8 343.6)" fill="rgb(98,165,88)" fill-opacity="0.9"/>
<ellipse cx="666.9" cy="351.4" rx="6.9" ry="4.1" transform="rotate(15 666.9 351.4)" fill="rgb(40,118,60)" fill-opacity="0.9"/>
<ellipse cx="677.1" cy="361.2" rx="6.1" ry="3.2" transform="rotate(30 677.1 361.2)" fill="rgb(40,118,60)" fill-opacity="0.9"/>
<ellipse cx="689.8" cy="374.8" rx="4.1" ry="2.6" transform="rotate(25 689.8 374.8)" fill="rgb(40,118,60)" fill-opacity="0.9"/>
<ellipse cx="733.8" cy="349.1" rx="5" ry="2.6" transform="rotate(0 733.8 349.1)" fill="rgb(40,118,60)" fill-opacity="0.9"/>
<ellipse cx="735.1" cy="361.8" rx="5.6" ry="3" transform="rotate(0 735.1 361.8)" fill="rgb(40,118,60)" fill-opacity="0.9"/>
</g>
<g><path d="M271.3,189.6 L299.5,189.6" stroke="#3d8fcf" stroke-width="1.15" fill="none"/>
<path d="M304,189.6 L299.2,187.79999999999998 L299.2,191.4 Z" fill="#3d8fcf"/>
<path d="M304.5,199.7 L278.3,199.7" stroke="#3d8fcf" stroke-width="1.15" fill="none" stroke-dasharray="2.9 2.95" stroke-dashoffset="1.2"/>
<path d="M272,199.7 L276.8,197.89999999999998 L276.8,201.5 Z" fill="#3d8fcf"/>
<path d="M276.1,308.8 L304,308.8" stroke="#dc5b58" stroke-width="1.15" fill="none"/>
<path d="M271.6,308.8 L276.40000000000003,307.0 L276.40000000000003,310.6 Z" fill="#dc5b58"/>
<path d="M521.3,224.9 L549.3,224.9" stroke="#3d8fcf" stroke-width="1.15" fill="none"/>
<path d="M553.8,224.9 L549.0,223.1 L549.0,226.70000000000002 Z" fill="#3d8fcf"/>
<path d="M554,235.2 L528.3,235.2" stroke="#3d8fcf" stroke-width="1.15" fill="none" stroke-dasharray="2.9 2.95" stroke-dashoffset="1.2"/>
<path d="M522,235.2 L526.8,233.39999999999998 L526.8,237.0 Z" fill="#3d8fcf"/>
<path d="M526.5,263.9 L553.8,263.9" stroke="#dc5b58" stroke-width="1.15" fill="none"/>
<path d="M522,263.9 L526.8,262.09999999999997 L526.8,265.7 Z" fill="#dc5b58"/>
<path d="M625.3,62.6 L637.1999999999999,62.6" stroke="#3d8fcf" stroke-width="1.2" fill="none"/>
<path d="M641.5,62.6 L636.9,60.75 L636.9,64.45 Z" fill="#3d8fcf"/>
<path d="M625.3,74.8 L637.1999999999999,74.8" stroke="#dc5b58" stroke-width="1.2" fill="none"/>
<path d="M641.5,74.8 L636.9,72.95 L636.9,76.64999999999999 Z" fill="#dc5b58"/></g>
<g filter="url(#gray)">
<text x="8.89" y="39.4" font-size="32" fill="#000" textLength="64.61" lengthAdjust="spacingAndGlyphs" filter="url(#thin)">How</text>
<text x="83.71" y="39.4" font-size="32" fill="#000" textLength="69.83" lengthAdjust="spacingAndGlyphs" filter="url(#thin)">does</text>
<text x="164.48" y="39.4" font-size="32" fill="#000" textLength="46.1" lengthAdjust="spacingAndGlyphs" filter="url(#thin)">the</text>
<text x="219.38" y="39.4" font-size="32" fill="#000" textLength="75.24" lengthAdjust="spacingAndGlyphs" filter="url(#thin)">brain</text>
<text x="303.16" y="39.4" font-size="32" fill="#000" textLength="99.4" lengthAdjust="spacingAndGlyphs" filter="url(#thin)">handle</text>
<text x="410.96" y="39.4" font-size="32" fill="#000" textLength="147.82" lengthAdjust="spacingAndGlyphs" filter="url(#thin)">language?</text>
<text x="651.99" y="441.6" font-size="12.4" fill="#000" textLength="134.51" lengthAdjust="spacingAndGlyphs">Fedorenko et al., 2024</text>
<text x="645.24" y="65.6" font-size="8.5" fill="#2c2c2c" textLength="104.77" lengthAdjust="spacingAndGlyphs">Language comprehension</text>
<text x="645.24" y="77.2" font-size="8.5" fill="#2c2c2c" textLength="87.02" lengthAdjust="spacingAndGlyphs">Language production</text>
<text x="65.73" y="68.8" font-size="8.3" font-weight="700" fill="#000" textLength="50.04" lengthAdjust="spacingAndGlyphs">Perception</text>
<text x="65.5" y="79.4" font-size="8.5" fill="#3c3c3c" textLength="193.51" lengthAdjust="spacingAndGlyphs">Perception of the surface properties of linguistic</text>
<text x="65.75" y="89.1" font-size="8.5" fill="#3c3c3c" textLength="174.26" lengthAdjust="spacingAndGlyphs">input (for instance, speech perception area)</text>
<text x="65.74" y="270.8" font-size="8.3" font-weight="700" fill="#000" textLength="64.02" lengthAdjust="spacingAndGlyphs">Motor planning</text>
<text x="65.5" y="281.6" font-size="8.5" fill="#3c3c3c" textLength="179.76" lengthAdjust="spacingAndGlyphs">Planning of the motor movements needed to</text>
<text x="65.75" y="291.1" font-size="8.5" fill="#3c3c3c" textLength="148.76" lengthAdjust="spacingAndGlyphs">realize linguistic output (for instance,</text>
<text x="65.48" y="300.9" font-size="8.5" fill="#3c3c3c" textLength="50.78" lengthAdjust="spacingAndGlyphs">Broca’s area)</text>
<text x="316.99" y="164.9" font-size="8.3" font-weight="700" fill="#000" textLength="44.52" lengthAdjust="spacingAndGlyphs">Language</text>
<text x="316.99" y="176.7" font-size="8.5" fill="#3c3c3c" textLength="150.51" lengthAdjust="spacingAndGlyphs">Language knowledge and processing</text>
<text x="316.99" y="186.6" font-size="8.5" fill="#3c3c3c" textLength="77.26" lengthAdjust="spacingAndGlyphs">(language network)</text>
<text x="567.74" y="116" font-size="8.3" font-weight="700" fill="#000" textLength="118.51" lengthAdjust="spacingAndGlyphs">Knowledge and reasoning</text>
<text x="577.5" y="129.2" font-size="8.5" fill="#3c3c3c" textLength="129.5" lengthAdjust="spacingAndGlyphs">Task demands beyond language</text>
<text x="576.99" y="139.2" font-size="8.5" fill="#3c3c3c" textLength="109.51" lengthAdjust="spacingAndGlyphs">(multiple demand network)</text>
<text x="576.99" y="152.1" font-size="8.8" fill="#141414" textLength="102.51" lengthAdjust="spacingAndGlyphs">Pragmatics, social reasoning</text>
<text x="576.99" y="161.9" font-size="8.5" fill="#3c3c3c" textLength="100.51" lengthAdjust="spacingAndGlyphs">(theory of mind network)</text>
<text x="576.99" y="174.6" font-size="8.8" fill="#141414" textLength="111.51" lengthAdjust="spacingAndGlyphs">Narratives, situation modelling</text>
<text x="576.99" y="184.5" font-size="8.5" fill="#3c3c3c" textLength="94.51" lengthAdjust="spacingAndGlyphs">(default mode network)</text>
<text x="568.99" y="389.7" font-size="8.3" font-weight="700" fill="#000" textLength="83.02" lengthAdjust="spacingAndGlyphs">Intended meaning</text>
<text x="569.24" y="400.9" font-size="8.5" fill="#707070" textLength="84.27" lengthAdjust="spacingAndGlyphs">(multiple brain areas,</text>
<text x="569.24" y="410.9" font-size="8.5" fill="#707070" textLength="82.51" lengthAdjust="spacingAndGlyphs">including the above)</text>
<rect x="568.1" y="122.9" width="6.6" height="6.1" fill="#9bd28a"/>
<rect x="568.1" y="146.3" width="6.6" height="6.1" fill="#6fb065"/>
<rect x="568.1" y="169.5" width="6.6" height="6.1" fill="#1f6e38"/>
<text x="569.7" y="389.7" font-size="8.8" font-weight="700" fill="#000" textLength="81.6" lengthAdjust="spacingAndGlyphs">Intended meaning</text>
<text x="569.7" y="400.9" font-size="8.8" fill="#707070" textLength="83" lengthAdjust="spacingAndGlyphs">(multiple brain areas,</text>
<text x="569.7" y="410.9" font-size="8.8" fill="#707070" textLength="81.6" lengthAdjust="spacingAndGlyphs">including the above)</text>
</g>
<rect x="0" y="449.6" width="800" height="3" fill="#fff"/>
<g stroke="#141414" fill="none">
<path d="M3,3.75 H796.6" stroke-width="1.25" stroke="#2a2a2a"/>
<path d="M3.7,3.2 V449.6" stroke-width="1.5"/>
<path d="M795.8,3.2 V449.6" stroke-width="1.6"/>
<path d="M3,448.6 H796.6" stroke-width="2.1"/>
</g>
</svg></body></html>
